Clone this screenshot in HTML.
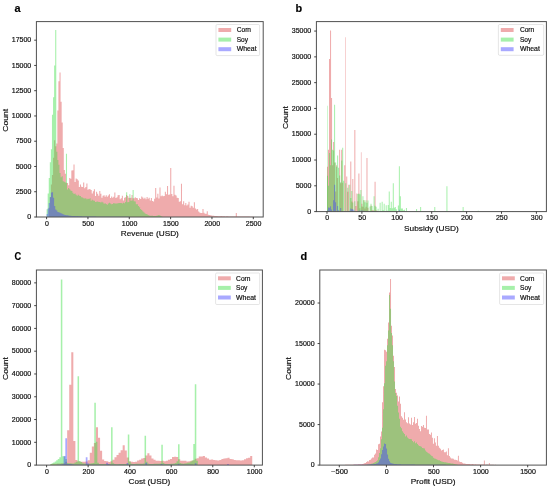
<!DOCTYPE html>
<html><head><meta charset="utf-8"><title>Histograms</title>
<style>html,body{margin:0;padding:0;background:#fff}svg{display:block;filter:blur(0.35px)}text{font-family:"Liberation Sans",sans-serif;stroke:#111;stroke-width:0.18px}</style>
</head><body>
<svg width="550" height="488" viewBox="0 0 550 488">
<rect width="550" height="488" fill="#fff"/>
<path d="M46.60,217.00L46.60,217.00L47.67,217.00L47.67,217.00L48.75,217.00L48.75,207.66L49.82,207.66L49.82,196.96L50.90,196.96L50.90,184.50L51.97,184.50L51.97,174.90L53.05,174.90L53.05,157.71L54.12,157.71L54.12,140.25L55.20,140.25L55.20,146.21L56.27,146.21L56.27,143.38L57.35,143.38L57.35,110.54L58.42,110.54L58.42,81.14L59.50,81.14L59.50,72.51L60.57,72.51L60.57,101.76L61.65,101.76L61.65,122.41L62.72,122.41L62.72,147.94L63.80,147.94L63.80,170.05L64.87,170.05L64.87,173.79L65.95,173.79L65.95,182.80L67.02,182.80L67.02,182.97L68.10,182.97L68.10,185.32L69.17,185.32L69.17,178.01L70.25,178.01L70.25,178.68L71.32,178.68L71.32,170.46L72.40,170.46L72.40,170.24L73.47,170.24L73.47,164.46L74.55,164.46L74.55,182.01L75.62,182.01L75.62,178.60L76.70,178.60L76.70,179.23L77.77,179.23L77.77,180.56L78.85,180.56L78.85,186.94L79.92,186.94L79.92,184.57L80.99,184.57L80.99,186.69L82.07,186.69L82.07,186.92L83.14,186.92L83.14,182.60L84.22,182.60L84.22,188.31L85.29,188.31L85.29,187.00L86.37,187.00L86.37,183.56L87.44,183.56L87.44,189.64L88.52,189.64L88.52,189.12L89.59,189.12L89.59,189.25L90.67,189.25L90.67,190.01L91.74,190.01L91.74,193.53L92.82,193.53L92.82,191.28L93.89,191.28L93.89,189.22L94.97,189.22L94.97,195.94L96.04,195.94L96.04,191.67L97.12,191.67L97.12,193.81L98.19,193.81L98.19,195.76L99.27,195.76L99.27,191.09L100.34,191.09L100.34,193.77L101.42,193.77L101.42,197.71L102.49,197.71L102.49,195.71L103.57,195.71L103.57,195.15L104.64,195.15L104.64,196.68L105.72,196.68L105.72,195.26L106.79,195.26L106.79,196.67L107.87,196.67L107.87,195.50L108.94,195.50L108.94,194.28L110.02,194.28L110.02,198.01L111.09,198.01L111.09,196.55L112.17,196.55L112.17,197.68L113.24,197.68L113.24,196.68L114.31,196.68L114.31,192.45L115.39,192.45L115.39,197.88L116.46,197.88L116.46,197.23L117.54,197.23L117.54,195.36L118.61,195.36L118.61,194.94L119.69,194.94L119.69,199.16L120.76,199.16L120.76,198.26L121.84,198.26L121.84,195.86L122.91,195.86L122.91,200.40L123.99,200.40L123.99,197.85L125.06,197.85L125.06,197.28L126.14,197.28L126.14,195.05L127.21,195.05L127.21,196.06L128.29,196.06L128.29,197.82L129.36,197.82L129.36,197.96L130.44,197.96L130.44,197.85L131.51,197.85L131.51,195.00L132.59,195.00L132.59,198.32L133.66,198.32L133.66,198.20L134.74,198.20L134.74,197.21L135.81,197.21L135.81,198.08L136.89,198.08L136.89,198.31L137.96,198.31L137.96,199.89L139.04,199.89L139.04,198.22L140.11,198.22L140.11,199.01L141.19,199.01L141.19,196.57L142.26,196.57L142.26,197.49L143.34,197.49L143.34,198.66L144.41,198.66L144.41,197.69L145.49,197.69L145.49,199.33L146.56,199.33L146.56,197.10L147.63,197.10L147.63,198.68L148.71,198.68L148.71,197.69L149.78,197.69L149.78,200.56L150.86,200.56L150.86,197.93L151.93,197.93L151.93,201.07L153.01,201.07L153.01,201.57L154.08,201.57L154.08,198.67L155.16,198.67L155.16,188.10L156.23,188.10L156.23,197.42L157.31,197.42L157.31,193.71L158.38,193.71L158.38,198.60L159.46,198.60L159.46,187.40L160.53,187.40L160.53,196.32L161.61,196.32L161.61,195.48L162.68,195.48L162.68,196.34L163.76,196.34L163.76,196.07L164.83,196.07L164.83,191.74L165.91,191.74L165.91,194.15L166.98,194.15L166.98,186.08L168.06,186.08L168.06,194.83L169.13,194.83L169.13,194.39L170.21,194.39L170.21,168.00L171.28,168.00L171.28,194.01L172.36,194.01L172.36,196.35L173.43,196.35L173.43,185.78L174.51,185.78L174.51,194.81L175.58,194.81L175.58,195.61L176.66,195.61L176.66,197.77L177.73,197.77L177.73,197.93L178.81,197.93L178.81,201.80L179.88,201.80L179.88,201.29L180.96,201.29L180.96,183.66L182.03,183.66L182.03,204.27L183.10,204.27L183.10,201.24L184.18,201.24L184.18,205.15L185.25,205.15L185.25,203.03L186.33,203.03L186.33,205.55L187.40,205.55L187.40,204.50L188.48,204.50L188.48,201.74L189.55,201.74L189.55,207.76L190.63,207.76L190.63,205.85L191.70,205.85L191.70,206.27L192.78,206.27L192.78,207.82L193.85,207.82L193.85,202.25L194.93,202.25L194.93,208.54L196.00,208.54L196.00,209.44L197.08,209.44L197.08,209.00L198.15,209.00L198.15,211.48L199.23,211.48L199.23,212.51L200.30,212.51L200.30,212.96L201.38,212.96L201.38,213.08L202.45,213.08L202.45,209.12L203.53,209.12L203.53,212.87L204.60,212.87L204.60,213.63L205.68,213.63L205.68,213.65L206.75,213.65L206.75,211.14L207.83,211.14L207.83,214.68L208.90,214.68L208.90,214.91L209.98,214.91L209.98,215.25L211.05,215.25L211.05,215.48L212.13,215.48L212.13,215.70L213.20,215.70L213.20,215.80L214.28,215.80L214.28,216.01L215.35,216.01L215.35,216.05L216.42,216.05L216.42,215.96L217.50,215.96L217.50,216.17L218.57,216.17L218.57,216.22L219.65,216.22L219.65,216.15L220.72,216.15L220.72,216.11L221.80,216.11L221.80,216.33L222.87,216.33L222.87,216.27L223.95,216.27L223.95,216.33L225.02,216.33L225.02,216.42L226.10,216.42L226.10,216.30L227.17,216.30L227.17,216.37L228.25,216.37L228.25,216.39L229.32,216.39L229.32,216.44L230.40,216.44L230.40,216.39L231.47,216.39L231.47,216.44L232.55,216.44L232.55,216.43L233.62,216.43L233.62,216.48L234.70,216.48L234.70,216.49L235.77,216.49L235.77,212.96L236.85,212.96L236.85,216.47L237.92,216.47L237.92,216.44L239.00,216.44L239.00,216.46L240.07,216.46L240.07,216.49L241.15,216.49L241.15,216.50L242.22,216.50L242.22,216.45L243.30,216.45L243.30,216.50L244.37,216.50L244.37,216.50L245.45,216.50L245.45,216.52L246.52,216.52L246.52,216.50L247.60,216.50L247.60,216.55L248.67,216.55L248.67,216.60L249.74,216.60L249.74,216.65L250.82,216.65L250.82,216.71L251.89,216.71L251.89,216.67L252.97,216.67L252.97,216.77L254.04,216.77L254.04,216.89L255.12,216.89L255.12,217.00Z" fill="#d62728" fill-opacity="0.39"/>
<path d="M46.60,217.00L46.60,209.20L47.67,209.20L47.67,193.56L48.75,193.56L48.75,177.93L49.82,177.93L49.82,162.16L50.90,162.16L50.90,149.31L51.97,149.31L51.97,114.78L53.05,114.78L53.05,97.36L54.12,97.36L54.12,65.47L55.20,65.47L55.20,30.08L56.27,30.08L56.27,151.80L57.35,151.80L57.35,160.08L58.42,160.08L58.42,164.77L59.50,164.77L59.50,173.11L60.57,173.11L60.57,177.17L61.65,177.17L61.65,176.16L62.72,176.16L62.72,181.15L63.80,181.15L63.80,181.72L64.87,181.72L64.87,182.59L65.95,182.59L65.95,153.85L67.02,153.85L67.02,189.51L68.10,189.51L68.10,188.03L69.17,188.03L69.17,189.18L70.25,189.18L70.25,190.39L71.32,190.39L71.32,191.05L72.40,191.05L72.40,192.72L73.47,192.72L73.47,193.90L74.55,193.90L74.55,193.38L75.62,193.38L75.62,194.67L76.70,194.67L76.70,195.82L77.77,195.82L77.77,194.78L78.85,194.78L78.85,195.79L79.92,195.79L79.92,195.89L80.99,195.89L80.99,197.32L82.07,197.32L82.07,197.51L83.14,197.51L83.14,198.17L84.22,198.17L84.22,198.51L85.29,198.51L85.29,198.19L86.37,198.19L86.37,199.13L87.44,199.13L87.44,198.72L88.52,198.72L88.52,199.05L89.59,199.05L89.59,198.34L90.67,198.34L90.67,200.73L91.74,200.73L91.74,199.69L92.82,199.69L92.82,200.58L93.89,200.58L93.89,200.85L94.97,200.85L94.97,201.96L96.04,201.96L96.04,201.72L97.12,201.72L97.12,201.39L98.19,201.39L98.19,202.06L99.27,202.06L99.27,202.12L100.34,202.12L100.34,202.46L101.42,202.46L101.42,201.86L102.49,201.86L102.49,202.61L103.57,202.61L103.57,203.84L104.64,203.84L104.64,203.23L105.72,203.23L105.72,204.00L106.79,204.00L106.79,204.75L107.87,204.75L107.87,203.58L108.94,203.58L108.94,202.84L110.02,202.84L110.02,203.59L111.09,203.59L111.09,204.18L112.17,204.18L112.17,204.02L113.24,204.02L113.24,202.99L114.31,202.99L114.31,203.40L115.39,203.40L115.39,203.40L116.46,203.40L116.46,203.40L117.54,203.40L117.54,203.30L118.61,203.30L118.61,202.88L119.69,202.88L119.69,202.95L120.76,202.95L120.76,203.06L121.84,203.06L121.84,203.62L122.91,203.62L122.91,202.81L123.99,202.81L123.99,203.20L125.06,203.20L125.06,202.10L126.14,202.10L126.14,192.35L127.21,192.35L127.21,202.29L128.29,202.29L128.29,202.00L129.36,202.00L129.36,194.37L130.44,194.37L130.44,200.63L131.51,200.63L131.51,200.55L132.59,200.55L132.59,189.92L133.66,189.92L133.66,201.16L134.74,201.16L134.74,201.60L135.81,201.60L135.81,204.29L136.89,204.29L136.89,204.35L137.96,204.35L137.96,205.92L139.04,205.92L139.04,207.32L140.11,207.32L140.11,208.94L141.19,208.94L141.19,209.96L142.26,209.96L142.26,211.20L143.34,211.20L143.34,212.24L144.41,212.24L144.41,213.35L145.49,213.35L145.49,213.94L146.56,213.94L146.56,214.35L147.63,214.35L147.63,215.07L148.71,215.07L148.71,215.60L149.78,215.60L149.78,215.82L150.86,215.82L150.86,215.75L151.93,215.75L151.93,215.84L153.01,215.84L153.01,215.92L154.08,215.92L154.08,216.00L155.16,216.00L155.16,216.08L156.23,216.08L156.23,215.76L157.31,215.76L157.31,215.45L158.38,215.45L158.38,215.11L159.46,215.11L159.46,215.44L160.53,215.44L160.53,216.11L161.61,216.11L161.61,216.86L162.68,216.86L162.68,217.00L163.76,217.00L163.76,217.00L164.83,217.00L164.83,217.00L165.91,217.00L165.91,217.00L166.98,217.00L166.98,217.00L168.06,217.00L168.06,217.00L169.13,217.00L169.13,217.00L170.21,217.00L170.21,217.00L171.28,217.00L171.28,217.00L172.36,217.00L172.36,217.00L173.43,217.00L173.43,217.00L174.51,217.00L174.51,217.00L175.58,217.00L175.58,217.00L176.66,217.00L176.66,217.00L177.73,217.00L177.73,217.00L178.81,217.00L178.81,217.00L179.88,217.00L179.88,217.00L180.96,217.00L180.96,217.00L182.03,217.00L182.03,217.00L183.10,217.00L183.10,217.00L184.18,217.00L184.18,217.00L185.25,217.00L185.25,217.00L186.33,217.00L186.33,217.00L187.40,217.00L187.40,217.00L188.48,217.00L188.48,217.00L189.55,217.00L189.55,217.00L190.63,217.00L190.63,217.00L191.70,217.00L191.70,217.00L192.78,217.00L192.78,217.00L193.85,217.00L193.85,217.00L194.93,217.00L194.93,217.00L196.00,217.00L196.00,217.00L197.08,217.00L197.08,217.00L198.15,217.00L198.15,217.00L199.23,217.00L199.23,217.00L200.30,217.00L200.30,217.00L201.38,217.00L201.38,217.00L202.45,217.00L202.45,217.00L203.53,217.00L203.53,217.00L204.60,217.00L204.60,217.00L205.68,217.00L205.68,217.00L206.75,217.00L206.75,217.00L207.83,217.00L207.83,217.00L208.90,217.00L208.90,217.00L209.98,217.00L209.98,217.00L211.05,217.00L211.05,217.00L212.13,217.00L212.13,217.00L213.20,217.00L213.20,217.00L214.28,217.00L214.28,217.00L215.35,217.00L215.35,217.00L216.42,217.00L216.42,217.00L217.50,217.00L217.50,217.00L218.57,217.00L218.57,217.00L219.65,217.00L219.65,217.00L220.72,217.00L220.72,217.00L221.80,217.00L221.80,217.00L222.87,217.00L222.87,217.00L223.95,217.00L223.95,217.00L225.02,217.00L225.02,217.00L226.10,217.00L226.10,217.00L227.17,217.00L227.17,217.00L228.25,217.00L228.25,217.00L229.32,217.00L229.32,217.00L230.40,217.00L230.40,217.00L231.47,217.00L231.47,217.00L232.55,217.00L232.55,217.00L233.62,217.00L233.62,217.00L234.70,217.00L234.70,217.00L235.77,217.00L235.77,217.00L236.85,217.00L236.85,217.00L237.92,217.00L237.92,217.00L239.00,217.00L239.00,217.00L240.07,217.00L240.07,217.00L241.15,217.00L241.15,217.00L242.22,217.00L242.22,217.00L243.30,217.00L243.30,217.00L244.37,217.00L244.37,217.00L245.45,217.00L245.45,217.00L246.52,217.00L246.52,217.00L247.60,217.00L247.60,217.00L248.67,217.00L248.67,217.00L249.74,217.00L249.74,217.00L250.82,217.00L250.82,217.00L251.89,217.00L251.89,217.00L252.97,217.00L252.97,217.00L254.04,217.00L254.04,217.00L255.12,217.00L255.12,217.00Z" fill="#3cde46" fill-opacity="0.46"/>
<path d="M46.60,217.00L46.60,213.91L47.67,213.91L47.67,208.43L48.75,208.43L48.75,203.00L49.82,203.00L49.82,197.29L50.90,197.29L50.90,192.55L51.97,192.55L51.97,192.25L53.05,192.25L53.05,197.86L54.12,197.86L54.12,205.95L55.20,205.95L55.20,209.47L56.27,209.47L56.27,210.55L57.35,210.55L57.35,211.92L58.42,211.92L58.42,212.35L59.50,212.35L59.50,212.82L60.57,212.82L60.57,213.28L61.65,213.28L61.65,213.82L62.72,213.82L62.72,214.15L63.80,214.15L63.80,214.67L64.87,214.67L64.87,215.06L65.95,215.06L65.95,215.21L67.02,215.21L67.02,215.30L68.10,215.30L68.10,215.50L69.17,215.50L69.17,215.78L70.25,215.78L70.25,215.84L71.32,215.84L71.32,215.99L72.40,215.99L72.40,216.00L73.47,216.00L73.47,216.09L74.55,216.09L74.55,216.12L75.62,216.12L75.62,216.18L76.70,216.18L76.70,216.12L77.77,216.12L77.77,216.23L78.85,216.23L78.85,216.22L79.92,216.22L79.92,216.31L80.99,216.31L80.99,216.33L82.07,216.33L82.07,216.40L83.14,216.40L83.14,216.41L84.22,216.41L84.22,216.42L85.29,216.42L85.29,216.49L86.37,216.49L86.37,216.49L87.44,216.49L87.44,216.54L88.52,216.54L88.52,216.57L89.59,216.57L89.59,216.57L90.67,216.57L90.67,216.58L91.74,216.58L91.74,216.58L92.82,216.58L92.82,216.60L93.89,216.60L93.89,216.61L94.97,216.61L94.97,216.61L96.04,216.61L96.04,216.63L97.12,216.63L97.12,216.64L98.19,216.64L98.19,216.63L99.27,216.63L99.27,216.63L100.34,216.63L100.34,216.67L101.42,216.67L101.42,216.66L102.49,216.66L102.49,216.67L103.57,216.67L103.57,216.69L104.64,216.69L104.64,216.68L105.72,216.68L105.72,216.70L106.79,216.70L106.79,216.69L107.87,216.69L107.87,216.72L108.94,216.72L108.94,216.72L110.02,216.72L110.02,216.73L111.09,216.73L111.09,216.74L112.17,216.74L112.17,216.74L113.24,216.74L113.24,216.75L114.31,216.75L114.31,216.76L115.39,216.76L115.39,216.77L116.46,216.77L116.46,216.79L117.54,216.79L117.54,216.79L118.61,216.79L118.61,216.80L119.69,216.80L119.69,216.80L120.76,216.80L120.76,216.82L121.84,216.82L121.84,216.82L122.91,216.82L122.91,216.84L123.99,216.84L123.99,216.84L125.06,216.84L125.06,216.85L126.14,216.85L126.14,216.87L127.21,216.87L127.21,216.87L128.29,216.87L128.29,216.87L129.36,216.87L129.36,216.89L130.44,216.89L130.44,216.89L131.51,216.89L131.51,216.89L132.59,216.89L132.59,216.89L133.66,216.89L133.66,216.89L134.74,216.89L134.74,216.90L135.81,216.90L135.81,216.90L136.89,216.90L136.89,216.90L137.96,216.90L137.96,216.91L139.04,216.91L139.04,216.91L140.11,216.91L140.11,216.91L141.19,216.91L141.19,216.92L142.26,216.92L142.26,216.92L143.34,216.92L143.34,216.92L144.41,216.92L144.41,216.93L145.49,216.93L145.49,216.93L146.56,216.93L146.56,216.93L147.63,216.93L147.63,216.93L148.71,216.93L148.71,216.94L149.78,216.94L149.78,216.94L150.86,216.94L150.86,216.95L151.93,216.95L151.93,216.95L153.01,216.95L153.01,216.95L154.08,216.95L154.08,216.95L155.16,216.95L155.16,216.96L156.23,216.96L156.23,216.96L157.31,216.96L157.31,216.96L158.38,216.96L158.38,216.97L159.46,216.97L159.46,216.97L160.53,216.97L160.53,216.97L161.61,216.97L161.61,216.98L162.68,216.98L162.68,216.98L163.76,216.98L163.76,216.98L164.83,216.98L164.83,216.98L165.91,216.98L165.91,216.99L166.98,216.99L166.98,216.99L168.06,216.99L168.06,216.99L169.13,216.99L169.13,217.00L170.21,217.00L170.21,217.00L171.28,217.00L171.28,217.00L172.36,217.00L172.36,217.00L173.43,217.00L173.43,217.00L174.51,217.00L174.51,217.00L175.58,217.00L175.58,217.00L176.66,217.00L176.66,217.00L177.73,217.00L177.73,217.00L178.81,217.00L178.81,217.00L179.88,217.00L179.88,217.00L180.96,217.00L180.96,217.00L182.03,217.00L182.03,217.00L183.10,217.00L183.10,217.00L184.18,217.00L184.18,217.00L185.25,217.00L185.25,217.00L186.33,217.00L186.33,217.00L187.40,217.00L187.40,217.00L188.48,217.00L188.48,217.00L189.55,217.00L189.55,217.00L190.63,217.00L190.63,217.00L191.70,217.00L191.70,217.00L192.78,217.00L192.78,217.00L193.85,217.00L193.85,217.00L194.93,217.00L194.93,217.00L196.00,217.00L196.00,217.00L197.08,217.00L197.08,217.00L198.15,217.00L198.15,217.00L199.23,217.00L199.23,217.00L200.30,217.00L200.30,217.00L201.38,217.00L201.38,217.00L202.45,217.00L202.45,217.00L203.53,217.00L203.53,217.00L204.60,217.00L204.60,217.00L205.68,217.00L205.68,217.00L206.75,217.00L206.75,217.00L207.83,217.00L207.83,217.00L208.90,217.00L208.90,217.00L209.98,217.00L209.98,217.00L211.05,217.00L211.05,217.00L212.13,217.00L212.13,217.00L213.20,217.00L213.20,217.00L214.28,217.00L214.28,217.00L215.35,217.00L215.35,217.00L216.42,217.00L216.42,217.00L217.50,217.00L217.50,217.00L218.57,217.00L218.57,217.00L219.65,217.00L219.65,217.00L220.72,217.00L220.72,217.00L221.80,217.00L221.80,217.00L222.87,217.00L222.87,217.00L223.95,217.00L223.95,217.00L225.02,217.00L225.02,217.00L226.10,217.00L226.10,217.00L227.17,217.00L227.17,217.00L228.25,217.00L228.25,217.00L229.32,217.00L229.32,217.00L230.40,217.00L230.40,217.00L231.47,217.00L231.47,217.00L232.55,217.00L232.55,217.00L233.62,217.00L233.62,217.00L234.70,217.00L234.70,217.00L235.77,217.00L235.77,217.00L236.85,217.00L236.85,217.00L237.92,217.00L237.92,217.00L239.00,217.00L239.00,217.00L240.07,217.00L240.07,217.00L241.15,217.00L241.15,217.00L242.22,217.00L242.22,217.00L243.30,217.00L243.30,217.00L244.37,217.00L244.37,217.00L245.45,217.00L245.45,217.00L246.52,217.00L246.52,217.00L247.60,217.00L247.60,217.00L248.67,217.00L248.67,217.00L249.74,217.00L249.74,217.00L250.82,217.00L250.82,217.00L251.89,217.00L251.89,217.00L252.97,217.00L252.97,217.00L254.04,217.00L254.04,217.00L255.12,217.00L255.12,217.00Z" fill="#4040ff" fill-opacity="0.45"/>
<rect x="36.40" y="21.60" width="226.80" height="195.40" fill="none" stroke="#505050" stroke-width="1.0"/>
<text x="46.90" y="225.80" font-size="6.40" text-anchor="middle" fill="#111" textLength="3.91" lengthAdjust="spacingAndGlyphs">0</text>
<text x="88.24" y="225.80" font-size="6.40" text-anchor="middle" fill="#111" textLength="11.74" lengthAdjust="spacingAndGlyphs">500</text>
<text x="129.58" y="225.80" font-size="6.40" text-anchor="middle" fill="#111" textLength="15.65" lengthAdjust="spacingAndGlyphs">1000</text>
<text x="170.92" y="225.80" font-size="6.40" text-anchor="middle" fill="#111" textLength="15.65" lengthAdjust="spacingAndGlyphs">1500</text>
<text x="212.26" y="225.80" font-size="6.40" text-anchor="middle" fill="#111" textLength="15.65" lengthAdjust="spacingAndGlyphs">2000</text>
<text x="253.60" y="225.80" font-size="6.40" text-anchor="middle" fill="#111" textLength="15.65" lengthAdjust="spacingAndGlyphs">2500</text>
<text x="31.30" y="219.25" font-size="6.40" text-anchor="end" fill="#111" textLength="3.91" lengthAdjust="spacingAndGlyphs">0</text>
<text x="31.30" y="193.99" font-size="6.40" text-anchor="end" fill="#111" textLength="15.65" lengthAdjust="spacingAndGlyphs">2500</text>
<text x="31.30" y="168.73" font-size="6.40" text-anchor="end" fill="#111" textLength="15.65" lengthAdjust="spacingAndGlyphs">5000</text>
<text x="31.30" y="143.47" font-size="6.40" text-anchor="end" fill="#111" textLength="15.65" lengthAdjust="spacingAndGlyphs">7500</text>
<text x="31.30" y="118.21" font-size="6.40" text-anchor="end" fill="#111" textLength="19.56" lengthAdjust="spacingAndGlyphs">10000</text>
<text x="31.30" y="92.95" font-size="6.40" text-anchor="end" fill="#111" textLength="19.56" lengthAdjust="spacingAndGlyphs">12500</text>
<text x="31.30" y="67.69" font-size="6.40" text-anchor="end" fill="#111" textLength="19.56" lengthAdjust="spacingAndGlyphs">15000</text>
<text x="31.30" y="42.43" font-size="6.40" text-anchor="end" fill="#111" textLength="19.56" lengthAdjust="spacingAndGlyphs">17500</text>
<path d="M46.60,217.00v2.2M87.94,217.00v2.2M129.28,217.00v2.2M170.62,217.00v2.2M211.96,217.00v2.2M253.30,217.00v2.2M36.40,217.00h-2.2M36.40,191.74h-2.2M36.40,166.48h-2.2M36.40,141.22h-2.2M36.40,115.96h-2.2M36.40,90.70h-2.2M36.40,65.44h-2.2M36.40,40.18h-2.2" stroke="#303030" stroke-width="0.9" fill="none"/>
<text x="149.80" y="236.10" font-size="7.96" text-anchor="middle" fill="#111" textLength="58.06" lengthAdjust="spacingAndGlyphs">Revenue (USD)</text>
<text font-size="7.96" text-anchor="middle" fill="#111" textLength="22.72" lengthAdjust="spacingAndGlyphs" transform="translate(7.60,120.30) rotate(-90)">Count</text>
<text x="14.40" y="12.40" font-size="10.9" font-weight="bold" fill="#000">a</text>
<rect x="216.00" y="24.50" width="43.60" height="31.10" rx="1.2" fill="#fff" fill-opacity="0.8" stroke="#d4d4d4" stroke-width="0.6"/>
<rect x="218.40" y="28.00" width="12.8" height="4.0" fill="#d62728" fill-opacity="0.39"/>
<text x="236.70" y="32.20" font-size="6.40" text-anchor="start" fill="#111" textLength="14.38" lengthAdjust="spacingAndGlyphs">Corn</text>
<rect x="218.40" y="37.60" width="12.8" height="4.0" fill="#3cde46" fill-opacity="0.46"/>
<text x="236.70" y="41.80" font-size="6.40" text-anchor="start" fill="#111" textLength="11.31" lengthAdjust="spacingAndGlyphs">Soy</text>
<rect x="218.40" y="47.20" width="12.8" height="4.0" fill="#4040ff" fill-opacity="0.45"/>
<text x="236.70" y="51.40" font-size="6.40" text-anchor="start" fill="#111" textLength="19.94" lengthAdjust="spacingAndGlyphs">Wheat</text>
<path d="M327.00,211.60L327.00,166.82L328.01,166.82L328.01,149.70L329.02,149.70L329.02,58.92L330.04,58.92L330.04,30.55L331.05,30.55L331.05,98.12L332.06,98.12L332.06,165.18L333.07,165.18L333.07,141.97L334.08,141.97L334.08,162.60L335.10,162.60L335.10,191.49L336.11,191.49L336.11,165.18L337.12,165.18L337.12,178.07L338.13,178.07L338.13,211.60L339.15,211.60L339.15,149.70L340.16,149.70L340.16,183.23L341.17,183.23L341.17,149.70L342.18,149.70L342.18,182.86L343.19,182.86L343.19,211.60L344.21,211.60L344.21,165.18L345.22,165.18L345.22,211.60L346.23,211.60L346.23,176.53L347.24,176.53L347.24,191.86L348.25,191.86L348.25,184.78L349.27,184.78L349.27,211.60L350.28,211.60L350.28,161.57L351.29,161.57L351.29,201.41L352.30,201.41L352.30,179.10L353.31,179.10L353.31,211.60L354.33,211.60L354.33,130.10L355.34,130.10L355.34,206.07L356.35,206.07L356.35,193.55L357.36,193.55L357.36,201.13L358.38,201.13L358.38,173.43L359.39,173.43L359.39,208.30L360.40,208.30L360.40,211.60L361.41,211.60L361.41,203.87L362.42,203.87L362.42,206.80L363.44,206.80L363.44,200.25L364.45,200.25L364.45,208.57L365.46,208.57L365.46,206.79L366.47,206.79L366.47,157.96L367.48,157.96L367.48,207.77L368.50,207.77L368.50,211.60L369.51,211.60L369.51,211.60L370.52,211.60L370.52,205.41L371.53,205.41L371.53,210.38L372.54,210.38L372.54,209.90L373.56,209.90L373.56,210.83L374.57,210.83L374.57,181.68L375.58,181.68L375.58,210.34L376.59,210.34L376.59,210.86L377.61,210.86L377.61,211.60L378.62,211.60L378.62,211.60L379.63,211.60L379.63,211.60L380.64,211.60L380.64,211.60L381.65,211.60L381.65,211.60L382.67,211.60L382.67,211.60L383.68,211.60L383.68,211.60L384.69,211.60L384.69,211.60L385.70,211.60L385.70,211.60L386.71,211.60L386.71,211.60L387.73,211.60L387.73,211.60L388.74,211.60L388.74,211.60L389.75,211.60L389.75,211.60L390.76,211.60L390.76,211.60L391.77,211.60L391.77,211.60L392.79,211.60L392.79,211.60L393.80,211.60L393.80,211.60L394.81,211.60L394.81,211.60L395.82,211.60L395.82,211.60L396.83,211.60L396.83,211.60L397.85,211.60L397.85,211.60L398.86,211.60L398.86,211.60L399.87,211.60L399.87,211.60L400.88,211.60L400.88,211.60L401.90,211.60L401.90,211.60L402.91,211.60L402.91,211.60L403.92,211.60L403.92,211.60L404.93,211.60L404.93,211.60L405.94,211.60L405.94,211.60L406.96,211.60L406.96,211.60L407.97,211.60L407.97,211.60L408.98,211.60L408.98,211.60L409.99,211.60L409.99,211.60L411.00,211.60L411.00,211.60L412.02,211.60L412.02,211.60L413.03,211.60L413.03,211.60L414.04,211.60L414.04,211.60L415.05,211.60L415.05,211.60L416.06,211.60L416.06,211.60L417.08,211.60L417.08,211.60L418.09,211.60L418.09,211.60L419.10,211.60L419.10,211.60L420.11,211.60L420.11,211.60L421.13,211.60L421.13,211.60L422.14,211.60L422.14,211.60L423.15,211.60L423.15,211.60L424.16,211.60L424.16,211.60L425.17,211.60L425.17,211.60L426.19,211.60L426.19,211.60L427.20,211.60L427.20,211.60L428.21,211.60L428.21,211.60L429.22,211.60L429.22,211.60L430.23,211.60L430.23,211.60L431.25,211.60L431.25,211.60L432.26,211.60L432.26,211.60L433.27,211.60L433.27,211.60L434.28,211.60L434.28,211.60L435.29,211.60L435.29,211.60L436.31,211.60L436.31,211.60L437.32,211.60L437.32,211.60L438.33,211.60L438.33,211.60L439.34,211.60L439.34,211.60L440.36,211.60L440.36,211.60L441.37,211.60L441.37,211.60L442.38,211.60L442.38,211.60L443.39,211.60L443.39,211.60L444.40,211.60L444.40,211.60L445.42,211.60L445.42,211.60L446.43,211.60L446.43,211.60L447.44,211.60L447.44,211.60L448.45,211.60L448.45,211.60L449.46,211.60L449.46,211.60L450.48,211.60L450.48,211.60L451.49,211.60L451.49,211.60L452.50,211.60L452.50,211.60L453.51,211.60L453.51,211.60L454.52,211.60L454.52,211.60L455.54,211.60L455.54,211.60L456.55,211.60L456.55,211.60L457.56,211.60L457.56,211.60L458.57,211.60L458.57,211.60L459.59,211.60L459.59,211.60L460.60,211.60L460.60,211.60L461.61,211.60L461.61,211.60L462.62,211.60L462.62,211.60L463.63,211.60L463.63,211.60L464.65,211.60L464.65,211.60L465.66,211.60L465.66,211.60L466.67,211.60L466.67,211.60L467.68,211.60L467.68,211.60L468.69,211.60L468.69,211.60L469.71,211.60L469.71,211.60L470.72,211.60L470.72,211.60L471.73,211.60L471.73,211.60L472.74,211.60L472.74,211.60L473.75,211.60L473.75,211.60L474.77,211.60L474.77,211.60L475.78,211.60L475.78,211.60L476.79,211.60L476.79,211.60L477.80,211.60L477.80,211.60L478.81,211.60L478.81,211.60L479.83,211.60L479.83,211.60L480.84,211.60L480.84,211.60L481.85,211.60L481.85,211.60L482.86,211.60L482.86,211.60L483.88,211.60L483.88,211.60L484.89,211.60L484.89,211.60L485.90,211.60L485.90,211.60L486.91,211.60L486.91,211.60L487.92,211.60L487.92,211.60L488.94,211.60L488.94,211.60L489.95,211.60L489.95,211.60L490.96,211.60L490.96,211.60L491.97,211.60L491.97,211.60L492.98,211.60L492.98,211.60L494.00,211.60L494.00,211.60L495.01,211.60L495.01,211.60L496.02,211.60L496.02,211.60L497.03,211.60L497.03,211.60L498.04,211.60L498.04,211.60L499.06,211.60L499.06,211.60L500.07,211.60L500.07,211.60L501.08,211.60L501.08,211.60L502.09,211.60L502.09,211.60L503.11,211.60L503.11,211.60L504.12,211.60L504.12,211.60L505.13,211.60L505.13,211.60L506.14,211.60L506.14,211.60L507.15,211.60L507.15,211.60L508.17,211.60L508.17,211.60L509.18,211.60L509.18,211.60L510.19,211.60L510.19,211.60L511.20,211.60L511.20,211.60L512.21,211.60L512.21,211.60L513.23,211.60L513.23,211.60L514.24,211.60L514.24,211.60L515.25,211.60L515.25,211.60L516.26,211.60L516.26,211.60L517.27,211.60L517.27,211.60L518.29,211.60L518.29,211.60L519.30,211.60L519.30,211.60L520.31,211.60L520.31,211.60L521.32,211.60L521.32,211.60L522.34,211.60L522.34,211.60L523.35,211.60L523.35,211.60L524.36,211.60L524.36,211.60L525.37,211.60L525.37,211.60L526.38,211.60L526.38,211.60L527.40,211.60L527.40,211.60L528.41,211.60L528.41,211.60L529.42,211.60L529.42,211.60L530.43,211.60L530.43,211.60L531.44,211.60L531.44,211.60L532.46,211.60L532.46,211.60L533.47,211.60L533.47,211.60L534.48,211.60L534.48,211.60L535.49,211.60L535.49,211.60L536.50,211.60L536.50,211.60Z" fill="#d62728" fill-opacity="0.39"/>
<path d="M345.22,211.60V37.26h0.55V211.60ZM360.90,211.60V152.28h0.60V211.60Z" fill="#d62728" fill-opacity="0.39"/>
<path d="M327.00,211.60L327.00,175.73L328.01,175.73L328.01,185.81L329.02,185.81L329.02,153.01L330.04,153.01L330.04,165.18L331.05,165.18L331.05,139.39L332.06,139.39L332.06,149.70L333.07,149.70L333.07,150.47L334.08,150.47L334.08,104.83L335.10,104.83L335.10,162.60L336.11,162.60L336.11,166.77L337.12,166.77L337.12,155.38L338.13,155.38L338.13,167.76L339.15,167.76L339.15,175.49L340.16,175.49L340.16,182.22L341.17,182.22L341.17,160.54L342.18,160.54L342.18,147.64L343.19,147.64L343.19,180.65L344.21,180.65L344.21,211.60L345.22,211.60L345.22,183.23L346.23,183.23L346.23,211.60L347.24,211.60L347.24,187.80L348.25,187.80L348.25,211.60L349.27,211.60L349.27,184.78L350.28,184.78L350.28,198.11L351.29,198.11L351.29,190.97L352.30,190.97L352.30,202.60L353.31,202.60L353.31,211.60L354.33,211.60L354.33,201.20L355.34,201.20L355.34,211.60L356.35,211.60L356.35,211.60L357.36,211.60L357.36,194.06L358.38,194.06L358.38,193.54L359.39,193.54L359.39,194.30L360.40,194.30L360.40,189.94L361.41,189.94L361.41,206.49L362.42,206.49L362.42,196.13L363.44,196.13L363.44,200.15L364.45,200.15L364.45,202.28L365.46,202.28L365.46,200.25L366.47,200.25L366.47,202.70L367.48,202.70L367.48,200.41L368.50,200.41L368.50,211.60L369.51,211.60L369.51,206.41L370.52,206.41L370.52,203.68L371.53,203.68L371.53,206.09L372.54,206.09L372.54,211.60L373.56,211.60L373.56,196.13L374.57,196.13L374.57,205.68L375.58,205.68L375.58,206.76L376.59,206.76L376.59,211.60L377.61,211.60L377.61,208.85L378.62,208.85L378.62,211.60L379.63,211.60L379.63,202.83L380.64,202.83L380.64,211.60L381.65,211.60L381.65,201.80L382.67,201.80L382.67,210.23L383.68,210.23L383.68,203.86L384.69,203.86L384.69,211.60L385.70,211.60L385.70,205.22L386.71,205.22L386.71,210.77L387.73,210.77L387.73,204.89L388.74,204.89L388.74,191.48L389.75,191.48L389.75,207.97L390.76,207.97L390.76,201.80L391.77,201.80L391.77,208.28L392.79,208.28L392.79,183.23L393.80,183.23L393.80,207.66L394.81,207.66L394.81,206.96L395.82,206.96L395.82,209.21L396.83,209.21L396.83,211.60L397.85,211.60L397.85,205.41L398.86,205.41L398.86,166.21L399.87,166.21L399.87,196.13L400.88,196.13L400.88,208.42L401.90,208.42L401.90,208.51L402.91,208.51L402.91,210.19L403.92,210.19L403.92,209.71L404.93,209.71L404.93,211.60L405.94,211.60L405.94,207.99L406.96,207.99L406.96,211.60L407.97,211.60L407.97,211.60L408.98,211.60L408.98,211.60L409.99,211.60L409.99,211.60L411.00,211.60L411.00,211.60L412.02,211.60L412.02,211.60L413.03,211.60L413.03,211.60L414.04,211.60L414.04,211.60L415.05,211.60L415.05,211.60L416.06,211.60L416.06,209.02L417.08,209.02L417.08,211.60L418.09,211.60L418.09,211.60L419.10,211.60L419.10,211.60L420.11,211.60L420.11,206.96L421.13,206.96L421.13,211.60L422.14,211.60L422.14,211.60L423.15,211.60L423.15,211.60L424.16,211.60L424.16,211.60L425.17,211.60L425.17,211.60L426.19,211.60L426.19,211.60L427.20,211.60L427.20,211.60L428.21,211.60L428.21,211.60L429.22,211.60L429.22,211.60L430.23,211.60L430.23,211.60L431.25,211.60L431.25,211.60L432.26,211.60L432.26,211.60L433.27,211.60L433.27,211.60L434.28,211.60L434.28,206.96L435.29,206.96L435.29,211.60L436.31,211.60L436.31,211.60L437.32,211.60L437.32,211.60L438.33,211.60L438.33,211.60L439.34,211.60L439.34,211.60L440.36,211.60L440.36,211.60L441.37,211.60L441.37,211.60L442.38,211.60L442.38,211.60L443.39,211.60L443.39,211.60L444.40,211.60L444.40,211.60L445.42,211.60L445.42,211.60L446.43,211.60L446.43,186.33L447.44,186.33L447.44,211.60L448.45,211.60L448.45,211.60L449.46,211.60L449.46,211.60L450.48,211.60L450.48,211.60L451.49,211.60L451.49,211.60L452.50,211.60L452.50,211.60L453.51,211.60L453.51,211.60L454.52,211.60L454.52,211.60L455.54,211.60L455.54,211.60L456.55,211.60L456.55,211.60L457.56,211.60L457.56,211.60L458.57,211.60L458.57,211.60L459.59,211.60L459.59,211.60L460.60,211.60L460.60,211.60L461.61,211.60L461.61,211.60L462.62,211.60L462.62,206.96L463.63,206.96L463.63,211.60L464.65,211.60L464.65,211.60L465.66,211.60L465.66,211.60L466.67,211.60L466.67,211.60L467.68,211.60L467.68,211.60L468.69,211.60L468.69,211.60L469.71,211.60L469.71,211.60L470.72,211.60L470.72,211.60L471.73,211.60L471.73,211.60L472.74,211.60L472.74,211.60L473.75,211.60L473.75,211.60L474.77,211.60L474.77,211.60L475.78,211.60L475.78,211.60L476.79,211.60L476.79,211.60L477.80,211.60L477.80,210.83L478.81,210.83L478.81,211.60L479.83,211.60L479.83,211.60L480.84,211.60L480.84,211.60L481.85,211.60L481.85,211.60L482.86,211.60L482.86,211.60L483.88,211.60L483.88,211.60L484.89,211.60L484.89,211.60L485.90,211.60L485.90,211.60L486.91,211.60L486.91,211.60L487.92,211.60L487.92,211.60L488.94,211.60L488.94,211.60L489.95,211.60L489.95,211.60L490.96,211.60L490.96,211.60L491.97,211.60L491.97,211.60L492.98,211.60L492.98,211.60L494.00,211.60L494.00,211.60L495.01,211.60L495.01,211.60L496.02,211.60L496.02,211.60L497.03,211.60L497.03,211.60L498.04,211.60L498.04,211.60L499.06,211.60L499.06,211.60L500.07,211.60L500.07,211.60L501.08,211.60L501.08,211.60L502.09,211.60L502.09,211.60L503.11,211.60L503.11,211.60L504.12,211.60L504.12,211.60L505.13,211.60L505.13,211.60L506.14,211.60L506.14,211.60L507.15,211.60L507.15,211.60L508.17,211.60L508.17,211.60L509.18,211.60L509.18,211.60L510.19,211.60L510.19,211.60L511.20,211.60L511.20,211.60L512.21,211.60L512.21,210.98L513.23,210.98L513.23,211.60L514.24,211.60L514.24,211.60L515.25,211.60L515.25,211.60L516.26,211.60L516.26,211.60L517.27,211.60L517.27,211.60L518.29,211.60L518.29,211.60L519.30,211.60L519.30,211.60L520.31,211.60L520.31,211.60L521.32,211.60L521.32,211.60L522.34,211.60L522.34,211.60L523.35,211.60L523.35,211.60L524.36,211.60L524.36,211.60L525.37,211.60L525.37,211.60L526.38,211.60L526.38,211.60L527.40,211.60L527.40,211.60L528.41,211.60L528.41,211.60L529.42,211.60L529.42,211.60L530.43,211.60L530.43,211.60L531.44,211.60L531.44,211.60L532.46,211.60L532.46,211.60L533.47,211.60L533.47,211.08L534.48,211.08L534.48,211.60L535.49,211.60L535.49,211.60L536.50,211.60L536.50,211.60Z" fill="#3cde46" fill-opacity="0.46"/>
<path d="M327.14,211.60V105.86h0.55V211.60Z" fill="#3cde46" fill-opacity="0.46"/>
<path d="M327.00,211.60L327.00,210.46L328.01,210.46L328.01,207.44L329.02,207.44L329.02,207.86L330.04,207.86L330.04,206.21L331.05,206.21L331.05,209.61L332.06,209.61L332.06,211.60L333.07,211.60L333.07,200.25L334.08,200.25L334.08,184.78L335.10,184.78L335.10,202.32L336.11,202.32L336.11,211.60L337.12,211.60L337.12,206.00L338.13,206.00L338.13,210.22L339.15,210.22L339.15,211.60L340.16,211.60L340.16,207.91L341.17,207.91L341.17,211.60L342.18,211.60L342.18,211.60L343.19,211.60L343.19,211.60L344.21,211.60L344.21,211.60L345.22,211.60L345.22,211.60L346.23,211.60L346.23,211.60L347.24,211.60L347.24,211.60L348.25,211.60L348.25,211.60L349.27,211.60L349.27,210.68L350.28,210.68L350.28,208.51L351.29,208.51L351.29,209.36L352.30,209.36L352.30,209.14L353.31,209.14L353.31,210.23L354.33,210.23L354.33,211.60L355.34,211.60L355.34,211.60L356.35,211.60L356.35,211.60L357.36,211.60L357.36,211.60L358.38,211.60L358.38,210.64L359.39,210.64L359.39,210.62L360.40,210.62L360.40,211.60L361.41,211.60L361.41,210.29L362.42,210.29L362.42,211.60L363.44,211.60L363.44,210.65L364.45,210.65L364.45,211.60L365.46,211.60L365.46,211.16L366.47,211.16L366.47,210.96L367.48,210.96L367.48,210.98L368.50,210.98L368.50,211.60L369.51,211.60L369.51,211.60L370.52,211.60L370.52,211.60L371.53,211.60L371.53,211.12L372.54,211.12L372.54,211.25L373.56,211.25L373.56,211.34L374.57,211.34L374.57,211.21L375.58,211.21L375.58,211.60L376.59,211.60L376.59,211.21L377.61,211.21L377.61,211.49L378.62,211.49L378.62,211.42L379.63,211.42L379.63,211.60L380.64,211.60L380.64,211.31L381.65,211.31L381.65,211.43L382.67,211.43L382.67,211.40L383.68,211.40L383.68,211.60L384.69,211.60L384.69,211.60L385.70,211.60L385.70,211.27L386.71,211.27L386.71,211.30L387.73,211.30L387.73,211.31L388.74,211.31L388.74,211.39L389.75,211.39L389.75,211.35L390.76,211.35L390.76,211.60L391.77,211.60L391.77,211.38L392.79,211.38L392.79,211.60L393.80,211.60L393.80,211.60L394.81,211.60L394.81,211.53L395.82,211.53L395.82,211.53L396.83,211.53L396.83,211.60L397.85,211.60L397.85,211.50L398.86,211.50L398.86,209.79L399.87,209.79L399.87,211.54L400.88,211.54L400.88,211.55L401.90,211.55L401.90,211.58L402.91,211.58L402.91,211.59L403.92,211.59L403.92,211.60L404.93,211.60L404.93,211.60L405.94,211.60L405.94,211.60L406.96,211.60L406.96,211.60L407.97,211.60L407.97,211.60L408.98,211.60L408.98,211.60L409.99,211.60L409.99,211.60L411.00,211.60L411.00,211.60L412.02,211.60L412.02,211.60L413.03,211.60L413.03,211.60L414.04,211.60L414.04,211.60L415.05,211.60L415.05,211.60L416.06,211.60L416.06,211.60L417.08,211.60L417.08,211.60L418.09,211.60L418.09,211.60L419.10,211.60L419.10,211.60L420.11,211.60L420.11,211.60L421.13,211.60L421.13,211.60L422.14,211.60L422.14,211.60L423.15,211.60L423.15,211.60L424.16,211.60L424.16,211.60L425.17,211.60L425.17,211.60L426.19,211.60L426.19,211.60L427.20,211.60L427.20,211.60L428.21,211.60L428.21,211.60L429.22,211.60L429.22,211.60L430.23,211.60L430.23,211.60L431.25,211.60L431.25,211.60L432.26,211.60L432.26,211.60L433.27,211.60L433.27,211.60L434.28,211.60L434.28,211.60L435.29,211.60L435.29,211.60L436.31,211.60L436.31,211.60L437.32,211.60L437.32,211.60L438.33,211.60L438.33,211.60L439.34,211.60L439.34,211.60L440.36,211.60L440.36,211.60L441.37,211.60L441.37,211.60L442.38,211.60L442.38,211.60L443.39,211.60L443.39,211.60L444.40,211.60L444.40,211.60L445.42,211.60L445.42,211.60L446.43,211.60L446.43,211.60L447.44,211.60L447.44,211.60L448.45,211.60L448.45,211.60L449.46,211.60L449.46,211.60L450.48,211.60L450.48,211.60L451.49,211.60L451.49,211.60L452.50,211.60L452.50,211.60L453.51,211.60L453.51,211.60L454.52,211.60L454.52,211.60L455.54,211.60L455.54,211.60L456.55,211.60L456.55,211.60L457.56,211.60L457.56,211.60L458.57,211.60L458.57,211.60L459.59,211.60L459.59,211.60L460.60,211.60L460.60,211.60L461.61,211.60L461.61,211.60L462.62,211.60L462.62,211.60L463.63,211.60L463.63,211.60L464.65,211.60L464.65,211.60L465.66,211.60L465.66,211.60L466.67,211.60L466.67,211.60L467.68,211.60L467.68,211.60L468.69,211.60L468.69,211.60L469.71,211.60L469.71,211.60L470.72,211.60L470.72,211.60L471.73,211.60L471.73,211.60L472.74,211.60L472.74,211.60L473.75,211.60L473.75,211.60L474.77,211.60L474.77,211.60L475.78,211.60L475.78,211.60L476.79,211.60L476.79,211.60L477.80,211.60L477.80,211.60L478.81,211.60L478.81,211.60L479.83,211.60L479.83,211.60L480.84,211.60L480.84,211.60L481.85,211.60L481.85,211.60L482.86,211.60L482.86,211.60L483.88,211.60L483.88,211.60L484.89,211.60L484.89,211.60L485.90,211.60L485.90,211.60L486.91,211.60L486.91,211.60L487.92,211.60L487.92,211.60L488.94,211.60L488.94,211.60L489.95,211.60L489.95,211.60L490.96,211.60L490.96,211.60L491.97,211.60L491.97,211.60L492.98,211.60L492.98,211.60L494.00,211.60L494.00,211.60L495.01,211.60L495.01,211.60L496.02,211.60L496.02,211.60L497.03,211.60L497.03,211.60L498.04,211.60L498.04,211.60L499.06,211.60L499.06,211.60L500.07,211.60L500.07,211.60L501.08,211.60L501.08,211.60L502.09,211.60L502.09,211.60L503.11,211.60L503.11,211.60L504.12,211.60L504.12,211.60L505.13,211.60L505.13,211.60L506.14,211.60L506.14,211.60L507.15,211.60L507.15,211.60L508.17,211.60L508.17,211.60L509.18,211.60L509.18,211.60L510.19,211.60L510.19,211.60L511.20,211.60L511.20,211.60L512.21,211.60L512.21,211.60L513.23,211.60L513.23,211.60L514.24,211.60L514.24,211.60L515.25,211.60L515.25,211.60L516.26,211.60L516.26,211.60L517.27,211.60L517.27,211.60L518.29,211.60L518.29,211.60L519.30,211.60L519.30,211.60L520.31,211.60L520.31,211.60L521.32,211.60L521.32,211.60L522.34,211.60L522.34,211.60L523.35,211.60L523.35,211.60L524.36,211.60L524.36,211.60L525.37,211.60L525.37,211.60L526.38,211.60L526.38,211.60L527.40,211.60L527.40,211.60L528.41,211.60L528.41,211.60L529.42,211.60L529.42,211.60L530.43,211.60L530.43,211.60L531.44,211.60L531.44,211.60L532.46,211.60L532.46,211.60L533.47,211.60L533.47,211.60L534.48,211.60L534.48,211.60L535.49,211.60L535.49,211.60L536.50,211.60L536.50,211.60Z" fill="#4040ff" fill-opacity="0.45"/>
<rect x="316.40" y="21.60" width="230.00" height="190.00" fill="none" stroke="#505050" stroke-width="1.0"/>
<text x="327.30" y="220.40" font-size="6.40" text-anchor="middle" fill="#111" textLength="3.91" lengthAdjust="spacingAndGlyphs">0</text>
<text x="362.20" y="220.40" font-size="6.40" text-anchor="middle" fill="#111" textLength="7.83" lengthAdjust="spacingAndGlyphs">50</text>
<text x="397.10" y="220.40" font-size="6.40" text-anchor="middle" fill="#111" textLength="11.74" lengthAdjust="spacingAndGlyphs">100</text>
<text x="432.00" y="220.40" font-size="6.40" text-anchor="middle" fill="#111" textLength="11.74" lengthAdjust="spacingAndGlyphs">150</text>
<text x="466.90" y="220.40" font-size="6.40" text-anchor="middle" fill="#111" textLength="11.74" lengthAdjust="spacingAndGlyphs">200</text>
<text x="501.80" y="220.40" font-size="6.40" text-anchor="middle" fill="#111" textLength="11.74" lengthAdjust="spacingAndGlyphs">250</text>
<text x="536.70" y="220.40" font-size="6.40" text-anchor="middle" fill="#111" textLength="11.74" lengthAdjust="spacingAndGlyphs">300</text>
<text x="311.30" y="213.85" font-size="6.40" text-anchor="end" fill="#111" textLength="3.91" lengthAdjust="spacingAndGlyphs">0</text>
<text x="311.30" y="188.06" font-size="6.40" text-anchor="end" fill="#111" textLength="15.65" lengthAdjust="spacingAndGlyphs">5000</text>
<text x="311.30" y="162.27" font-size="6.40" text-anchor="end" fill="#111" textLength="19.56" lengthAdjust="spacingAndGlyphs">10000</text>
<text x="311.30" y="136.48" font-size="6.40" text-anchor="end" fill="#111" textLength="19.56" lengthAdjust="spacingAndGlyphs">15000</text>
<text x="311.30" y="110.69" font-size="6.40" text-anchor="end" fill="#111" textLength="19.56" lengthAdjust="spacingAndGlyphs">20000</text>
<text x="311.30" y="84.90" font-size="6.40" text-anchor="end" fill="#111" textLength="19.56" lengthAdjust="spacingAndGlyphs">25000</text>
<text x="311.30" y="59.11" font-size="6.40" text-anchor="end" fill="#111" textLength="19.56" lengthAdjust="spacingAndGlyphs">30000</text>
<text x="311.30" y="33.32" font-size="6.40" text-anchor="end" fill="#111" textLength="19.56" lengthAdjust="spacingAndGlyphs">35000</text>
<path d="M327.00,211.60v2.2M361.90,211.60v2.2M396.80,211.60v2.2M431.70,211.60v2.2M466.60,211.60v2.2M501.50,211.60v2.2M536.40,211.60v2.2M316.40,211.60h-2.2M316.40,185.81h-2.2M316.40,160.02h-2.2M316.40,134.23h-2.2M316.40,108.44h-2.2M316.40,82.65h-2.2M316.40,56.86h-2.2M316.40,31.07h-2.2" stroke="#303030" stroke-width="0.9" fill="none"/>
<text x="431.40" y="230.70" font-size="7.96" text-anchor="middle" fill="#111" textLength="54.80" lengthAdjust="spacingAndGlyphs">Subsidy (USD)</text>
<text font-size="7.96" text-anchor="middle" fill="#111" textLength="22.72" lengthAdjust="spacingAndGlyphs" transform="translate(287.60,117.60) rotate(-90)">Count</text>
<text x="295.60" y="12.40" font-size="10.9" font-weight="bold" fill="#000">b</text>
<rect x="498.40" y="24.50" width="45.30" height="30.80" rx="1.2" fill="#fff" fill-opacity="0.8" stroke="#d4d4d4" stroke-width="0.6"/>
<rect x="500.80" y="28.00" width="12.8" height="4.0" fill="#d62728" fill-opacity="0.39"/>
<text x="519.90" y="32.20" font-size="6.40" text-anchor="start" fill="#111" textLength="14.38" lengthAdjust="spacingAndGlyphs">Corn</text>
<rect x="500.80" y="37.60" width="12.8" height="4.0" fill="#3cde46" fill-opacity="0.46"/>
<text x="519.90" y="41.80" font-size="6.40" text-anchor="start" fill="#111" textLength="11.31" lengthAdjust="spacingAndGlyphs">Soy</text>
<rect x="500.80" y="47.20" width="12.8" height="4.0" fill="#4040ff" fill-opacity="0.45"/>
<text x="519.90" y="51.40" font-size="6.40" text-anchor="start" fill="#111" textLength="19.94" lengthAdjust="spacingAndGlyphs">Wheat</text>
<path d="M46.60,465.10L46.60,465.10L48.66,465.10L48.66,464.96L50.71,464.96L50.71,463.89L52.77,463.89L52.77,463.82L54.82,463.82L54.82,463.71L56.88,463.71L56.88,463.58L58.94,463.58L58.94,463.57L60.99,463.57L60.99,463.31L63.05,463.31L63.05,463.21L65.11,463.21L65.11,461.73L67.16,461.73L67.16,430.36L69.22,430.36L69.22,384.69L71.27,384.69L71.27,352.34L73.33,352.34L73.33,441.04L75.39,441.04L75.39,460.00L77.44,460.00L77.44,461.28L79.50,461.28L79.50,461.64L81.56,461.64L81.56,461.82L83.61,461.82L83.61,461.73L85.67,461.73L85.67,461.54L87.72,461.54L87.72,460.22L89.78,460.22L89.78,452.71L91.84,452.71L91.84,446.39L93.89,446.39L93.89,442.88L95.95,442.88L95.95,427.17L98.01,427.17L98.01,437.66L100.06,437.66L100.06,450.85L102.12,450.85L102.12,459.49L104.17,459.49L104.17,461.01L106.23,461.01L106.23,461.35L108.29,461.35L108.29,461.92L110.34,461.92L110.34,461.28L112.40,461.28L112.40,459.77L114.46,459.77L114.46,457.28L116.51,457.28L116.51,455.01L118.57,455.01L118.57,452.76L120.62,452.76L120.62,450.37L122.68,450.37L122.68,445.28L124.74,445.28L124.74,450.55L126.79,450.55L126.79,457.53L128.85,457.53L128.85,461.21L130.91,461.21L130.91,461.77L132.96,461.77L132.96,462.11L135.02,462.11L135.02,461.71L137.07,461.71L137.07,460.54L139.13,460.54L139.13,459.70L141.19,459.70L141.19,458.62L143.24,458.62L143.24,458.00L145.30,458.00L145.30,455.59L147.36,455.59L147.36,453.32L149.41,453.32L149.41,455.46L151.47,455.46L151.47,458.40L153.52,458.40L153.52,459.63L155.58,459.63L155.58,460.64L157.64,460.64L157.64,460.81L159.69,460.81L159.69,460.91L161.75,460.91L161.75,460.73L163.81,460.73L163.81,461.20L165.86,461.20L165.86,460.65L167.92,460.65L167.92,459.77L169.97,459.77L169.97,459.09L172.03,459.09L172.03,456.96L174.09,456.96L174.09,456.63L176.14,456.63L176.14,456.95L178.20,456.95L178.20,459.24L180.25,459.24L180.25,460.66L182.31,460.66L182.31,460.75L184.37,460.75L184.37,460.79L186.42,460.79L186.42,461.44L188.48,461.44L188.48,461.28L190.54,461.28L190.54,460.72L192.59,460.72L192.59,460.33L194.65,460.33L194.65,458.83L196.70,458.83L196.70,458.36L198.76,458.36L198.76,456.45L200.82,456.45L200.82,456.59L202.87,456.59L202.87,455.88L204.93,455.88L204.93,457.50L206.99,457.50L206.99,458.56L209.04,458.56L209.04,459.76L211.10,459.76L211.10,459.48L213.15,459.48L213.15,459.96L215.21,459.96L215.21,460.25L217.27,460.25L217.27,460.48L219.32,460.48L219.32,459.95L221.38,459.95L221.38,459.06L223.44,459.06L223.44,458.50L225.49,458.50L225.49,458.17L227.55,458.17L227.55,457.71L229.60,457.71L229.60,458.92L231.66,458.92L231.66,459.34L233.72,459.34L233.72,460.05L235.77,460.05L235.77,460.27L237.83,460.27L237.83,460.21L239.89,460.21L239.89,460.56L241.94,460.56L241.94,460.30L244.00,460.30L244.00,459.27L246.05,459.27L246.05,458.32L248.11,458.32L248.11,457.80L250.17,457.80L250.17,456.09L252.22,456.09L252.22,465.10Z" fill="#d62728" fill-opacity="0.39"/>
<path d="M47.11,465.10L47.11,465.10L48.64,465.10L48.64,465.10L50.16,465.10L50.16,464.10L51.68,464.10L51.68,463.26L53.20,463.26L53.20,462.39L54.73,462.39L54.73,461.50L56.25,461.50L56.25,460.30L57.77,460.30L57.77,458.96L59.29,458.96L59.29,457.27L60.81,457.27L60.81,279.44L62.34,279.44L62.34,456.14L63.86,456.14L63.86,456.49L65.38,456.49L65.38,459.01L66.90,459.01L66.90,463.07L68.43,463.07L68.43,463.18L69.95,463.18L69.95,463.29L71.47,463.29L71.47,463.41L72.99,463.41L72.99,463.42L74.52,463.42L74.52,462.59L76.04,462.59L76.04,461.75L77.56,461.75L77.56,376.26L79.08,376.26L79.08,460.88L80.61,460.88L80.61,462.00L82.13,462.00L82.13,463.14L83.65,463.14L83.65,463.38L85.17,463.38L85.17,463.62L86.70,463.62L86.70,463.85L88.22,463.85L88.22,463.81L89.74,463.81L89.74,463.55L91.26,463.55L91.26,463.28L92.79,463.28L92.79,463.01L94.31,463.01L94.31,402.68L95.83,402.68L95.83,441.86L97.35,441.86L97.35,462.85L98.88,462.85L98.88,463.96L100.40,463.96L100.40,464.00L101.92,464.00L101.92,464.04L103.44,464.04L103.44,464.07L104.97,464.07L104.97,464.11L106.49,464.11L106.49,464.15L108.01,464.15L108.01,464.19L109.53,464.19L109.53,463.81L111.06,463.81L111.06,427.17L112.58,427.17L112.58,463.20L114.10,463.20L114.10,464.04L115.62,464.04L115.62,464.16L117.15,464.16L117.15,464.13L118.67,464.13L118.67,464.10L120.19,464.10L120.19,464.07L121.71,464.07L121.71,464.04L123.24,464.04L123.24,464.01L124.76,464.01L124.76,463.98L126.28,463.98L126.28,463.65L127.80,463.65L127.80,434.57L129.32,434.57L129.32,461.69L130.85,461.69L130.85,463.76L132.37,463.76L132.37,463.93L133.89,463.93L133.89,463.90L135.41,463.90L135.41,463.87L136.94,463.87L136.94,463.84L138.46,463.84L138.46,463.81L139.98,463.81L139.98,463.78L141.50,463.78L141.50,463.75L143.03,463.75L143.03,463.38L144.55,463.38L144.55,435.71L146.07,435.71L146.07,461.82L147.59,461.82L147.59,463.49L149.12,463.49L149.12,463.94L150.64,463.94L150.64,463.91L152.16,463.91L152.16,463.88L153.68,463.88L153.68,463.84L155.21,463.84L155.21,463.81L156.73,463.81L156.73,463.78L158.25,463.78L158.25,463.75L159.77,463.75L159.77,463.54L161.30,463.54L161.30,444.71L162.82,444.71L162.82,462.99L164.34,462.99L164.34,463.99L165.86,463.99L165.86,464.11L167.39,464.11L167.39,464.00L168.91,464.00L168.91,463.90L170.43,463.90L170.43,463.79L171.95,463.79L171.95,463.69L173.48,463.69L173.48,463.58L175.00,463.58L175.00,462.92L176.52,462.92L176.52,461.14L178.04,461.14L178.04,444.37L179.57,444.37L179.57,462.91L181.09,462.91L181.09,463.61L182.61,463.61L182.61,463.80L184.13,463.80L184.13,463.47L185.66,463.47L185.66,463.13L187.18,463.13L187.18,462.80L188.70,462.80L188.70,462.47L190.22,462.47L190.22,461.43L191.74,461.43L191.74,460.57L193.27,460.57L193.27,443.91L194.79,443.91L194.79,384.23L196.31,384.23L196.31,460.77L197.83,460.77L197.83,465.10Z" fill="#3cde46" fill-opacity="0.46"/>
<path d="M46.60,465.10L46.60,465.10L48.30,465.10L48.30,465.10L50.01,465.10L50.01,465.10L51.71,465.10L51.71,465.10L53.41,465.10L53.41,465.10L55.12,465.10L55.12,465.01L56.82,465.01L56.82,464.87L58.52,464.87L58.52,464.72L60.23,464.72L60.23,464.48L61.93,464.48L61.93,464.25L63.63,464.25L63.63,455.99L65.33,455.99L65.33,438.22L67.04,438.22L67.04,463.98L68.74,463.98L68.74,464.12L70.44,464.12L70.44,464.34L72.15,464.34L72.15,464.57L73.85,464.57L73.85,464.64L75.55,464.64L75.55,464.64L77.26,464.64L77.26,464.64L78.96,464.64L78.96,464.64L80.66,464.64L80.66,464.64L82.37,464.64L82.37,464.64L84.07,464.64L84.07,464.64L85.77,464.64L85.77,457.13L87.48,457.13L87.48,463.51L89.18,463.51L89.18,464.65L90.88,464.65L90.88,464.65L92.58,464.65L92.58,464.66L94.29,464.66L94.29,464.66L95.99,464.66L95.99,464.67L97.69,464.67L97.69,464.67L99.40,464.67L99.40,464.68L101.10,464.68L101.10,464.68L102.80,464.68L102.80,464.69L104.51,464.69L104.51,464.69L106.21,464.69L106.21,462.82L107.91,462.82L107.91,463.96L109.62,463.96L109.62,464.71L111.32,464.71L111.32,464.71L113.02,464.71L113.02,464.71L114.73,464.71L114.73,464.72L116.43,464.72L116.43,464.72L118.13,464.72L118.13,464.73L119.84,464.73L119.84,464.73L121.54,464.73L121.54,464.74L123.24,464.74L123.24,464.74L124.94,464.74L124.94,464.75L126.65,464.75L126.65,463.05L128.35,463.05L128.35,464.76L130.05,464.76L130.05,464.76L131.76,464.76L131.76,464.76L133.46,464.76L133.46,464.77L135.16,464.77L135.16,464.77L136.87,464.77L136.87,464.77L138.57,464.77L138.57,464.78L140.27,464.78L140.27,464.78L141.98,464.78L141.98,464.78L143.68,464.78L143.68,464.79L145.38,464.79L145.38,462.82L147.09,462.82L147.09,464.79L148.79,464.79L148.79,464.79L150.49,464.79L150.49,464.80L152.19,464.80L152.19,464.80L153.90,464.80L153.90,464.80L155.60,464.80L155.60,464.81L157.30,464.81L157.30,464.81L159.01,464.81L159.01,464.81L160.71,464.81L160.71,463.96L162.41,463.96L162.41,464.82L164.12,464.82L164.12,464.82L165.82,464.82L165.82,464.83L167.52,464.83L167.52,464.83L169.23,464.83L169.23,464.83L170.93,464.83L170.93,464.84L172.63,464.84L172.63,464.84L174.34,464.84L174.34,464.84L176.04,464.84L176.04,464.84L177.74,464.84L177.74,463.73L179.44,463.73L179.44,464.85L181.15,464.85L181.15,464.85L182.85,464.85L182.85,464.86L184.55,464.86L184.55,464.86L186.26,464.86L186.26,464.86L187.96,464.86L187.96,464.87L189.66,464.87L189.66,464.87L191.37,464.87L191.37,464.87L193.07,464.87L193.07,464.88L194.77,464.88L194.77,463.28L196.48,463.28L196.48,464.89L198.18,464.89L198.18,464.89L199.88,464.89L199.88,464.90L201.59,464.90L201.59,464.90L203.29,464.90L203.29,464.90L204.99,464.90L204.99,464.91L206.70,464.91L206.70,464.91L208.40,464.91L208.40,464.92L210.10,464.92L210.10,464.92L211.80,464.92L211.80,464.93L213.51,464.93L213.51,464.93L215.21,464.93L215.21,464.94L216.91,464.94L216.91,464.94L218.62,464.94L218.62,464.95L220.32,464.95L220.32,464.95L222.02,464.95L222.02,464.96L223.73,464.96L223.73,464.96L225.43,464.96L225.43,464.96L227.13,464.96L227.13,463.96L228.84,463.96L228.84,464.97L230.54,464.97L230.54,464.98L232.24,464.98L232.24,464.98L233.95,464.98L233.95,464.99L235.65,464.99L235.65,464.99L237.35,464.99L237.35,465.00L239.05,465.00L239.05,465.00L240.76,465.00L240.76,465.01L242.46,465.01L242.46,465.01L244.16,465.01L244.16,465.02L245.87,465.02L245.87,465.02L247.57,465.02L247.57,465.02L249.27,465.02L249.27,465.03L250.98,465.03L250.98,465.10Z" fill="#4040ff" fill-opacity="0.45"/>
<rect x="36.40" y="270.00" width="226.00" height="195.10" fill="none" stroke="#505050" stroke-width="1.0"/>
<text x="46.90" y="473.90" font-size="6.40" text-anchor="middle" fill="#111" textLength="3.91" lengthAdjust="spacingAndGlyphs">0</text>
<text x="88.44" y="473.90" font-size="6.40" text-anchor="middle" fill="#111" textLength="11.74" lengthAdjust="spacingAndGlyphs">200</text>
<text x="129.98" y="473.90" font-size="6.40" text-anchor="middle" fill="#111" textLength="11.74" lengthAdjust="spacingAndGlyphs">400</text>
<text x="171.52" y="473.90" font-size="6.40" text-anchor="middle" fill="#111" textLength="11.74" lengthAdjust="spacingAndGlyphs">600</text>
<text x="213.06" y="473.90" font-size="6.40" text-anchor="middle" fill="#111" textLength="11.74" lengthAdjust="spacingAndGlyphs">800</text>
<text x="254.60" y="473.90" font-size="6.40" text-anchor="middle" fill="#111" textLength="15.65" lengthAdjust="spacingAndGlyphs">1000</text>
<text x="31.30" y="467.35" font-size="6.40" text-anchor="end" fill="#111" textLength="3.91" lengthAdjust="spacingAndGlyphs">0</text>
<text x="31.30" y="444.57" font-size="6.40" text-anchor="end" fill="#111" textLength="19.56" lengthAdjust="spacingAndGlyphs">10000</text>
<text x="31.30" y="421.79" font-size="6.40" text-anchor="end" fill="#111" textLength="19.56" lengthAdjust="spacingAndGlyphs">20000</text>
<text x="31.30" y="399.01" font-size="6.40" text-anchor="end" fill="#111" textLength="19.56" lengthAdjust="spacingAndGlyphs">30000</text>
<text x="31.30" y="376.23" font-size="6.40" text-anchor="end" fill="#111" textLength="19.56" lengthAdjust="spacingAndGlyphs">40000</text>
<text x="31.30" y="353.45" font-size="6.40" text-anchor="end" fill="#111" textLength="19.56" lengthAdjust="spacingAndGlyphs">50000</text>
<text x="31.30" y="330.67" font-size="6.40" text-anchor="end" fill="#111" textLength="19.56" lengthAdjust="spacingAndGlyphs">60000</text>
<text x="31.30" y="307.89" font-size="6.40" text-anchor="end" fill="#111" textLength="19.56" lengthAdjust="spacingAndGlyphs">70000</text>
<text x="31.30" y="285.11" font-size="6.40" text-anchor="end" fill="#111" textLength="19.56" lengthAdjust="spacingAndGlyphs">80000</text>
<path d="M46.60,465.10v2.2M88.14,465.10v2.2M129.68,465.10v2.2M171.22,465.10v2.2M212.76,465.10v2.2M254.30,465.10v2.2M36.40,465.10h-2.2M36.40,442.32h-2.2M36.40,419.54h-2.2M36.40,396.76h-2.2M36.40,373.98h-2.2M36.40,351.20h-2.2M36.40,328.42h-2.2M36.40,305.64h-2.2M36.40,282.86h-2.2" stroke="#303030" stroke-width="0.9" fill="none"/>
<text x="149.40" y="484.20" font-size="7.96" text-anchor="middle" fill="#111" textLength="41.75" lengthAdjust="spacingAndGlyphs">Cost (USD)</text>
<text font-size="7.96" text-anchor="middle" fill="#111" textLength="22.72" lengthAdjust="spacingAndGlyphs" transform="translate(7.60,368.55) rotate(-90)">Count</text>
<text x="14.60" y="260.20" font-size="10.9" font-weight="bold" fill="#000" textLength="6.7" lengthAdjust="spacingAndGlyphs">C</text>
<rect x="215.60" y="273.00" width="44.10" height="31.50" rx="1.2" fill="#fff" fill-opacity="0.8" stroke="#d4d4d4" stroke-width="0.6"/>
<rect x="218.00" y="276.30" width="12.8" height="4.0" fill="#d62728" fill-opacity="0.39"/>
<text x="236.10" y="280.50" font-size="6.40" text-anchor="start" fill="#111" textLength="14.38" lengthAdjust="spacingAndGlyphs">Corn</text>
<rect x="218.00" y="285.90" width="12.8" height="4.0" fill="#3cde46" fill-opacity="0.46"/>
<text x="236.10" y="290.10" font-size="6.40" text-anchor="start" fill="#111" textLength="11.31" lengthAdjust="spacingAndGlyphs">Soy</text>
<rect x="218.00" y="295.50" width="12.8" height="4.0" fill="#4040ff" fill-opacity="0.45"/>
<text x="236.10" y="299.70" font-size="6.40" text-anchor="start" fill="#111" textLength="19.94" lengthAdjust="spacingAndGlyphs">Wheat</text>
<path d="M326.11,465.10L326.11,465.10L327.11,465.10L327.11,465.09L328.11,465.09L328.11,465.08L329.11,465.08L329.11,465.07L330.11,465.07L330.11,465.05L331.10,465.05L331.10,465.05L332.10,465.05L332.10,465.04L333.10,465.04L333.10,465.04L334.10,465.04L334.10,465.02L335.10,465.02L335.10,465.00L336.10,465.00L336.10,465.00L337.10,465.00L337.10,465.01L338.09,465.01L338.09,464.99L339.09,464.99L339.09,464.95L340.09,464.95L340.09,464.95L341.09,464.95L341.09,464.95L342.09,464.95L342.09,464.91L343.09,464.91L343.09,464.91L344.09,464.91L344.09,464.88L345.08,464.88L345.08,464.85L346.08,464.85L346.08,464.84L347.08,464.84L347.08,464.79L348.08,464.79L348.08,464.78L349.08,464.78L349.08,464.76L350.08,464.76L350.08,464.69L351.08,464.69L351.08,464.64L352.07,464.64L352.07,464.70L353.07,464.70L353.07,464.61L354.07,464.61L354.07,464.61L355.07,464.61L355.07,464.53L356.07,464.53L356.07,464.54L357.07,464.54L357.07,464.41L358.06,464.41L358.06,464.36L359.06,464.36L359.06,464.33L360.06,464.33L360.06,464.33L361.06,464.33L361.06,464.20L362.06,464.20L362.06,463.96L363.06,463.96L363.06,463.70L364.06,463.70L364.06,463.16L365.05,463.16L365.05,463.08L366.05,463.08L366.05,461.94L367.05,461.94L367.05,461.31L368.05,461.31L368.05,461.56L369.05,461.56L369.05,459.96L370.05,459.96L370.05,459.79L371.05,459.79L371.05,458.39L372.04,458.39L372.04,457.40L373.04,457.40L373.04,457.57L374.04,457.57L374.04,454.85L375.04,454.85L375.04,453.44L376.04,453.44L376.04,449.53L377.04,449.53L377.04,449.92L378.04,449.92L378.04,444.15L379.03,444.15L379.03,443.70L380.03,443.70L380.03,436.42L381.03,436.42L381.03,431.39L382.03,431.39L382.03,402.27L383.03,402.27L383.03,386.17L384.03,386.17L384.03,349.80L385.02,349.80L385.02,350.34L386.02,350.34L386.02,351.64L387.02,351.64L387.02,338.68L388.02,338.68L388.02,322.47L389.02,322.47L389.02,292.48L390.02,292.48L390.02,279.03L391.02,279.03L391.02,325.71L392.01,325.71L392.01,335.44L393.01,335.44L393.01,355.70L394.01,355.70L394.01,366.98L395.01,366.98L395.01,388.89L396.01,388.89L396.01,392.67L397.01,392.67L397.01,395.57L398.01,395.57L398.01,401.48L399.00,401.48L399.00,396.54L400.00,396.54L400.00,403.75L401.00,403.75L401.00,416.28L402.00,416.28L402.00,417.70L403.00,417.70L403.00,419.82L404.00,419.82L404.00,412.24L405.00,412.24L405.00,419.56L405.99,419.56L405.99,422.26L406.99,422.26L406.99,423.18L407.99,423.18L407.99,417.34L408.99,417.34L408.99,423.39L409.99,423.39L409.99,424.57L410.99,424.57L410.99,417.73L411.98,417.73L411.98,425.04L412.98,425.04L412.98,422.13L413.98,422.13L413.98,416.88L414.98,416.88L414.98,423.75L415.98,423.75L415.98,423.09L416.98,423.09L416.98,418.79L417.98,418.79L417.98,425.83L418.97,425.83L418.97,428.88L419.97,428.88L419.97,431.29L420.97,431.29L420.97,426.04L421.97,426.04L421.97,426.78L422.97,426.78L422.97,424.99L423.97,424.99L423.97,427.74L424.97,427.74L424.97,428.10L425.96,428.10L425.96,415.67L426.96,415.67L426.96,429.61L427.96,429.61L427.96,429.40L428.96,429.40L428.96,433.98L429.96,433.98L429.96,434.86L430.96,434.86L430.96,432.56L431.96,432.56L431.96,437.84L432.95,437.84L432.95,443.65L433.95,443.65L433.95,438.32L434.95,438.32L434.95,442.53L435.95,442.53L435.95,445.76L436.95,445.76L436.95,436.09L437.95,436.09L437.95,445.81L438.94,445.81L438.94,447.75L439.94,447.75L439.94,448.85L440.94,448.85L440.94,450.42L441.94,450.42L441.94,449.97L442.94,449.97L442.94,449.62L443.94,449.62L443.94,452.16L444.94,452.16L444.94,452.23L445.93,452.23L445.93,451.53L446.93,451.53L446.93,455.20L447.93,455.20L447.93,448.16L448.93,448.16L448.93,456.05L449.93,456.05L449.93,457.57L450.93,457.57L450.93,458.46L451.93,458.46L451.93,458.57L452.92,458.57L452.92,458.75L453.92,458.75L453.92,459.64L454.92,459.64L454.92,459.77L455.92,459.77L455.92,459.90L456.92,459.90L456.92,460.50L457.92,460.50L457.92,455.78L458.92,455.78L458.92,461.39L459.91,461.39L459.91,461.88L460.91,461.88L460.91,462.09L461.91,462.09L461.91,462.86L462.91,462.86L462.91,463.44L463.91,463.44L463.91,463.51L464.91,463.51L464.91,463.84L465.90,463.84L465.90,463.90L466.90,463.90L466.90,463.93L467.90,463.93L467.90,464.08L468.90,464.08L468.90,464.04L469.90,464.04L469.90,464.19L470.90,464.19L470.90,464.33L471.90,464.33L471.90,464.11L472.89,464.11L472.89,464.21L473.89,464.21L473.89,464.39L474.89,464.39L474.89,464.27L475.89,464.27L475.89,464.39L476.89,464.39L476.89,464.53L477.89,464.53L477.89,464.48L478.89,464.48L478.89,464.52L479.88,464.52L479.88,464.45L480.88,464.45L480.88,464.58L481.88,464.58L481.88,464.57L482.88,464.57L482.88,464.59L483.88,464.59L483.88,460.48L484.88,460.48L484.88,464.65L485.88,464.65L485.88,464.62L486.87,464.62L486.87,464.61L487.87,464.61L487.87,464.64L488.87,464.64L488.87,463.07L489.87,463.07L489.87,464.75L490.87,464.75L490.87,464.74L491.87,464.74L491.87,464.80L492.86,464.80L492.86,464.84L493.86,464.84L493.86,464.89L494.86,464.89L494.86,464.86L495.86,464.86L495.86,464.92L496.86,464.92L496.86,464.97L497.86,464.97L497.86,464.97L498.86,464.97L498.86,464.99L499.85,464.99L499.85,465.04L500.85,465.04L500.85,465.04L501.85,465.04L501.85,465.06L502.85,465.06L502.85,465.08L503.85,465.08L503.85,465.10L504.85,465.10L504.85,465.10L505.85,465.10L505.85,465.10L506.84,465.10L506.84,465.10L507.84,465.10L507.84,465.10L508.84,465.10L508.84,465.10L509.84,465.10L509.84,465.10L510.84,465.10L510.84,465.10L511.84,465.10L511.84,465.10L512.84,465.10L512.84,465.10L513.83,465.10L513.83,465.10L514.83,465.10L514.83,465.10L515.83,465.10L515.83,465.10L516.83,465.10L516.83,465.10L517.83,465.10L517.83,465.10L518.83,465.10L518.83,465.10L519.82,465.10L519.82,465.10L520.82,465.10L520.82,465.10L521.82,465.10L521.82,465.10L522.82,465.10L522.82,465.10L523.82,465.10L523.82,465.10L524.82,465.10L524.82,465.10L525.82,465.10L525.82,465.10L526.81,465.10L526.81,465.10L527.81,465.10L527.81,465.10L528.81,465.10L528.81,465.10L529.81,465.10L529.81,465.10L530.81,465.10L530.81,465.10L531.81,465.10L531.81,465.10L532.81,465.10L532.81,465.10L533.80,465.10L533.80,465.10L534.80,465.10L534.80,465.10L535.80,465.10L535.80,465.10L536.80,465.10L536.80,465.10Z" fill="#d62728" fill-opacity="0.39"/>
<path d="M326.11,465.10L326.11,465.10L327.11,465.10L327.11,465.10L328.11,465.10L328.11,465.10L329.11,465.10L329.11,465.10L330.11,465.10L330.11,465.10L331.10,465.10L331.10,465.10L332.10,465.10L332.10,465.10L333.10,465.10L333.10,465.10L334.10,465.10L334.10,465.10L335.10,465.10L335.10,465.10L336.10,465.10L336.10,465.10L337.10,465.10L337.10,465.10L338.09,465.10L338.09,465.10L339.09,465.10L339.09,465.10L340.09,465.10L340.09,465.10L341.09,465.10L341.09,465.10L342.09,465.10L342.09,465.10L343.09,465.10L343.09,465.10L344.09,465.10L344.09,465.10L345.08,465.10L345.08,465.10L346.08,465.10L346.08,465.10L347.08,465.10L347.08,465.10L348.08,465.10L348.08,465.10L349.08,465.10L349.08,465.10L350.08,465.10L350.08,465.10L351.08,465.10L351.08,465.10L352.07,465.10L352.07,465.10L353.07,465.10L353.07,465.10L354.07,465.10L354.07,465.10L355.07,465.10L355.07,465.10L356.07,465.10L356.07,465.10L357.07,465.10L357.07,465.10L358.06,465.10L358.06,465.09L359.06,465.09L359.06,465.05L360.06,465.05L360.06,465.02L361.06,465.02L361.06,464.99L362.06,464.99L362.06,464.95L363.06,464.95L363.06,464.92L364.06,464.92L364.06,464.89L365.05,464.89L365.05,464.86L366.05,464.86L366.05,464.82L367.05,464.82L367.05,464.79L368.05,464.79L368.05,464.60L369.05,464.60L369.05,464.35L370.05,464.35L370.05,464.07L371.05,464.07L371.05,463.82L372.04,463.82L372.04,463.47L373.04,463.47L373.04,462.98L374.04,462.98L374.04,462.47L375.04,462.47L375.04,462.02L376.04,462.02L376.04,461.36L377.04,461.36L377.04,460.27L378.04,460.27L378.04,457.30L379.03,457.30L379.03,453.03L380.03,453.03L380.03,448.14L381.03,448.14L381.03,439.37L382.03,439.37L382.03,427.63L383.03,427.63L383.03,409.36L384.03,409.36L384.03,383.13L385.02,383.13L385.02,365.68L386.02,365.68L386.02,361.37L387.02,361.37L387.02,345.16L388.02,345.16L388.02,330.57L389.02,330.57L389.02,294.92L390.02,294.92L390.02,308.69L391.02,308.69L391.02,333.00L392.01,333.00L392.01,345.16L393.01,345.16L393.01,361.37L394.01,361.37L394.01,381.51L395.01,381.51L395.01,392.95L396.01,392.95L396.01,396.06L397.01,396.06L397.01,405.66L398.01,405.66L398.01,412.47L399.00,412.47L399.00,418.68L400.00,418.68L400.00,426.73L401.00,426.73L401.00,428.23L402.00,428.23L402.00,431.26L403.00,431.26L403.00,432.77L404.00,432.77L404.00,433.99L405.00,433.99L405.00,436.43L405.99,436.43L405.99,435.54L406.99,435.54L406.99,437.55L407.99,437.55L407.99,438.41L408.99,438.41L408.99,439.06L409.99,439.06L409.99,438.95L410.99,438.95L410.99,439.21L411.98,439.21L411.98,440.92L412.98,440.92L412.98,442.27L413.98,442.27L413.98,441.15L414.98,441.15L414.98,443.32L415.98,443.32L415.98,442.53L416.98,442.53L416.98,444.12L417.98,444.12L417.98,445.28L418.97,445.28L418.97,446.00L419.97,446.00L419.97,446.14L420.97,446.14L420.97,446.69L421.97,446.69L421.97,448.04L422.97,448.04L422.97,448.27L423.97,448.27L423.97,448.57L424.97,448.57L424.97,450.44L425.96,450.44L425.96,451.64L426.96,451.64L426.96,452.38L427.96,452.38L427.96,453.29L428.96,453.29L428.96,453.84L429.96,453.84L429.96,454.74L430.96,454.74L430.96,455.79L431.96,455.79L431.96,456.17L432.95,456.17L432.95,457.82L433.95,457.82L433.95,458.38L434.95,458.38L434.95,458.63L435.95,458.63L435.95,459.23L436.95,459.23L436.95,459.72L437.95,459.72L437.95,460.14L438.94,460.14L438.94,460.36L439.94,460.36L439.94,460.93L440.94,460.93L440.94,461.39L441.94,461.39L441.94,461.79L442.94,461.79L442.94,461.88L443.94,461.88L443.94,462.14L444.94,462.14L444.94,462.33L445.93,462.33L445.93,462.53L446.93,462.53L446.93,462.68L447.93,462.68L447.93,462.90L448.93,462.90L448.93,463.02L449.93,463.02L449.93,463.35L450.93,463.35L450.93,463.48L451.93,463.48L451.93,463.59L452.92,463.59L452.92,463.87L453.92,463.87L453.92,464.03L454.92,464.03L454.92,464.30L455.92,464.30L455.92,464.57L456.92,464.57L456.92,464.84L457.92,464.84L457.92,465.10L458.92,465.10L458.92,465.10L459.91,465.10L459.91,465.10L460.91,465.10L460.91,465.10L461.91,465.10L461.91,465.10L462.91,465.10L462.91,465.10L463.91,465.10L463.91,465.10L464.91,465.10L464.91,465.10L465.90,465.10L465.90,465.10L466.90,465.10L466.90,465.10L467.90,465.10L467.90,465.10L468.90,465.10L468.90,465.10L469.90,465.10L469.90,465.10L470.90,465.10L470.90,465.10L471.90,465.10L471.90,465.10L472.89,465.10L472.89,465.10L473.89,465.10L473.89,465.10L474.89,465.10L474.89,465.10L475.89,465.10L475.89,465.10L476.89,465.10L476.89,465.10L477.89,465.10L477.89,465.10L478.89,465.10L478.89,465.10L479.88,465.10L479.88,465.10L480.88,465.10L480.88,465.10L481.88,465.10L481.88,465.10L482.88,465.10L482.88,465.10L483.88,465.10L483.88,465.10L484.88,465.10L484.88,465.10L485.88,465.10L485.88,465.10L486.87,465.10L486.87,465.10L487.87,465.10L487.87,465.10L488.87,465.10L488.87,465.10L489.87,465.10L489.87,465.10L490.87,465.10L490.87,465.10L491.87,465.10L491.87,465.10L492.86,465.10L492.86,465.10L493.86,465.10L493.86,465.10L494.86,465.10L494.86,465.10L495.86,465.10L495.86,465.10L496.86,465.10L496.86,465.10L497.86,465.10L497.86,465.10L498.86,465.10L498.86,465.10L499.85,465.10L499.85,465.10L500.85,465.10L500.85,465.10L501.85,465.10L501.85,465.10L502.85,465.10L502.85,465.10L503.85,465.10L503.85,465.10L504.85,465.10L504.85,465.10L505.85,465.10L505.85,465.10L506.84,465.10L506.84,465.10L507.84,465.10L507.84,465.10L508.84,465.10L508.84,465.10L509.84,465.10L509.84,465.10L510.84,465.10L510.84,465.10L511.84,465.10L511.84,465.10L512.84,465.10L512.84,465.10L513.83,465.10L513.83,465.10L514.83,465.10L514.83,465.10L515.83,465.10L515.83,465.10L516.83,465.10L516.83,465.10L517.83,465.10L517.83,465.10L518.83,465.10L518.83,465.10L519.82,465.10L519.82,465.10L520.82,465.10L520.82,465.10L521.82,465.10L521.82,465.10L522.82,465.10L522.82,465.10L523.82,465.10L523.82,465.10L524.82,465.10L524.82,465.10L525.82,465.10L525.82,465.10L526.81,465.10L526.81,465.10L527.81,465.10L527.81,465.10L528.81,465.10L528.81,465.10L529.81,465.10L529.81,465.10L530.81,465.10L530.81,465.10L531.81,465.10L531.81,465.10L532.81,465.10L532.81,465.10L533.80,465.10L533.80,465.10L534.80,465.10L534.80,465.10L535.80,465.10L535.80,465.10L536.80,465.10L536.80,465.10Z" fill="#3cde46" fill-opacity="0.46"/>
<path d="M326.11,465.10L326.11,465.10L327.11,465.10L327.11,465.09L328.11,465.09L328.11,465.09L329.11,465.09L329.11,465.08L330.11,465.08L330.11,465.08L331.10,465.08L331.10,465.07L332.10,465.07L332.10,465.07L333.10,465.07L333.10,465.06L334.10,465.06L334.10,465.05L335.10,465.05L335.10,465.05L336.10,465.05L336.10,465.04L337.10,465.04L337.10,465.04L338.09,465.04L338.09,465.03L339.09,465.03L339.09,465.03L340.09,465.03L340.09,465.02L341.09,465.02L341.09,465.02L342.09,465.02L342.09,465.01L343.09,465.01L343.09,465.01L344.09,465.01L344.09,465.00L345.08,465.00L345.08,465.00L346.08,465.00L346.08,464.99L347.08,464.99L347.08,464.98L348.08,464.98L348.08,464.98L349.08,464.98L349.08,464.96L350.08,464.96L350.08,464.94L351.08,464.94L351.08,464.92L352.07,464.92L352.07,464.90L353.07,464.90L353.07,464.88L354.07,464.88L354.07,464.87L355.07,464.87L355.07,464.85L356.07,464.85L356.07,464.83L357.07,464.83L357.07,464.81L358.06,464.81L358.06,464.79L359.06,464.79L359.06,464.77L360.06,464.77L360.06,464.75L361.06,464.75L361.06,464.73L362.06,464.73L362.06,464.71L363.06,464.71L363.06,464.69L364.06,464.69L364.06,464.67L365.05,464.67L365.05,464.65L366.05,464.65L366.05,464.63L367.05,464.63L367.05,464.61L368.05,464.61L368.05,464.54L369.05,464.54L369.05,464.46L370.05,464.46L370.05,464.39L371.05,464.39L371.05,464.31L372.04,464.31L372.04,464.24L373.04,464.24L373.04,464.16L374.04,464.16L374.04,464.09L375.04,464.09L375.04,463.90L376.04,463.90L376.04,463.57L377.04,463.57L377.04,463.23L378.04,463.23L378.04,462.13L379.03,462.13L379.03,460.32L380.03,460.32L380.03,458.51L381.03,458.51L381.03,454.28L382.03,454.28L382.03,449.99L383.03,449.99L383.03,446.56L384.03,446.56L384.03,443.60L385.02,443.60L385.02,443.98L386.02,443.98L386.02,448.62L387.02,448.62L387.02,454.53L388.02,454.53L388.02,458.87L389.02,458.87L389.02,461.31L390.02,461.31L390.02,462.76L391.02,462.76L391.02,463.29L392.01,463.29L392.01,463.57L393.01,463.57L393.01,463.85L394.01,463.85L394.01,464.00L395.01,464.00L395.01,464.06L396.01,464.06L396.01,464.12L397.01,464.12L397.01,464.18L398.01,464.18L398.01,464.25L399.00,464.25L399.00,464.31L400.00,464.31L400.00,464.37L401.00,464.37L401.00,464.39L402.00,464.39L402.00,464.40L403.00,464.40L403.00,464.42L404.00,464.42L404.00,464.44L405.00,464.44L405.00,464.46L405.99,464.46L405.99,464.47L406.99,464.47L406.99,464.49L407.99,464.49L407.99,464.51L408.99,464.51L408.99,464.52L409.99,464.52L409.99,464.54L410.99,464.54L410.99,464.56L411.98,464.56L411.98,464.58L412.98,464.58L412.98,464.59L413.98,464.59L413.98,464.61L414.98,464.61L414.98,464.63L415.98,464.63L415.98,464.65L416.98,464.65L416.98,464.66L417.98,464.66L417.98,464.68L418.97,464.68L418.97,464.70L419.97,464.70L419.97,464.71L420.97,464.71L420.97,464.73L421.97,464.73L421.97,464.75L422.97,464.75L422.97,464.77L423.97,464.77L423.97,464.78L424.97,464.78L424.97,464.78L425.96,464.78L425.96,464.79L426.96,464.79L426.96,464.79L427.96,464.79L427.96,464.80L428.96,464.80L428.96,464.80L429.96,464.80L429.96,464.81L430.96,464.81L430.96,464.81L431.96,464.81L431.96,464.81L432.95,464.81L432.95,464.82L433.95,464.82L433.95,464.82L434.95,464.82L434.95,464.83L435.95,464.83L435.95,464.83L436.95,464.83L436.95,464.84L437.95,464.84L437.95,464.84L438.94,464.84L438.94,464.85L439.94,464.85L439.94,464.85L440.94,464.85L440.94,464.86L441.94,464.86L441.94,464.86L442.94,464.86L442.94,464.86L443.94,464.86L443.94,464.87L444.94,464.87L444.94,464.87L445.93,464.87L445.93,464.88L446.93,464.88L446.93,464.88L447.93,464.88L447.93,464.89L448.93,464.89L448.93,464.89L449.93,464.89L449.93,464.90L450.93,464.90L450.93,464.90L451.93,464.90L451.93,464.91L452.92,464.91L452.92,464.91L453.92,464.91L453.92,464.92L454.92,464.92L454.92,464.92L455.92,464.92L455.92,464.92L456.92,464.92L456.92,464.93L457.92,464.93L457.92,464.93L458.92,464.93L458.92,464.94L459.91,464.94L459.91,464.94L460.91,464.94L460.91,464.95L461.91,464.95L461.91,464.95L462.91,464.95L462.91,464.96L463.91,464.96L463.91,464.96L464.91,464.96L464.91,464.97L465.90,464.97L465.90,464.97L466.90,464.97L466.90,464.97L467.90,464.97L467.90,464.98L468.90,464.98L468.90,464.98L469.90,464.98L469.90,464.99L470.90,464.99L470.90,464.99L471.90,464.99L471.90,465.00L472.89,465.00L472.89,465.00L473.89,465.00L473.89,465.01L474.89,465.01L474.89,465.01L475.89,465.01L475.89,465.02L476.89,465.02L476.89,465.02L477.89,465.02L477.89,465.03L478.89,465.03L478.89,465.03L479.88,465.03L479.88,465.03L480.88,465.03L480.88,465.04L481.88,465.04L481.88,465.04L482.88,465.04L482.88,465.04L483.88,465.04L483.88,465.04L484.88,465.04L484.88,465.04L485.88,465.04L485.88,465.04L486.87,465.04L486.87,465.04L487.87,465.04L487.87,465.04L488.87,465.04L488.87,465.05L489.87,465.05L489.87,465.05L490.87,465.05L490.87,465.05L491.87,465.05L491.87,465.05L492.86,465.05L492.86,465.05L493.86,465.05L493.86,465.05L494.86,465.05L494.86,465.05L495.86,465.05L495.86,465.05L496.86,465.05L496.86,465.05L497.86,465.05L497.86,465.06L498.86,465.06L498.86,465.06L499.85,465.06L499.85,465.06L500.85,465.06L500.85,465.06L501.85,465.06L501.85,465.06L502.85,465.06L502.85,465.06L503.85,465.06L503.85,465.06L504.85,465.06L504.85,465.06L505.85,465.06L505.85,465.06L506.84,465.06L506.84,465.07L507.84,465.07L507.84,465.07L508.84,465.07L508.84,465.07L509.84,465.07L509.84,465.07L510.84,465.07L510.84,465.07L511.84,465.07L511.84,465.07L512.84,465.07L512.84,465.07L513.83,465.07L513.83,465.07L514.83,465.07L514.83,465.08L515.83,465.08L515.83,465.08L516.83,465.08L516.83,465.08L517.83,465.08L517.83,465.08L518.83,465.08L518.83,465.08L519.82,465.08L519.82,465.08L520.82,465.08L520.82,465.08L521.82,465.08L521.82,465.08L522.82,465.08L522.82,465.08L523.82,465.08L523.82,465.09L524.82,465.09L524.82,465.09L525.82,465.09L525.82,465.09L526.81,465.09L526.81,465.09L527.81,465.09L527.81,465.09L528.81,465.09L528.81,465.09L529.81,465.09L529.81,465.09L530.81,465.09L530.81,465.09L531.81,465.09L531.81,465.09L532.81,465.09L532.81,465.10L533.80,465.10L533.80,465.10L534.80,465.10L534.80,465.10L535.80,465.10L535.80,465.10L536.80,465.10L536.80,465.10Z" fill="#4040ff" fill-opacity="0.45"/>
<rect x="319.80" y="270.00" width="226.60" height="195.10" fill="none" stroke="#505050" stroke-width="1.0"/>
<text x="339.60" y="473.90" font-size="6.40" text-anchor="middle" fill="#111" textLength="16.89" lengthAdjust="spacingAndGlyphs">−500</text>
<text x="386.70" y="473.90" font-size="6.40" text-anchor="middle" fill="#111" textLength="3.91" lengthAdjust="spacingAndGlyphs">0</text>
<text x="433.80" y="473.90" font-size="6.40" text-anchor="middle" fill="#111" textLength="11.74" lengthAdjust="spacingAndGlyphs">500</text>
<text x="480.90" y="473.90" font-size="6.40" text-anchor="middle" fill="#111" textLength="15.65" lengthAdjust="spacingAndGlyphs">1000</text>
<text x="528.00" y="473.90" font-size="6.40" text-anchor="middle" fill="#111" textLength="15.65" lengthAdjust="spacingAndGlyphs">1500</text>
<text x="314.70" y="467.35" font-size="6.40" text-anchor="end" fill="#111" textLength="3.91" lengthAdjust="spacingAndGlyphs">0</text>
<text x="314.70" y="426.83" font-size="6.40" text-anchor="end" fill="#111" textLength="15.65" lengthAdjust="spacingAndGlyphs">5000</text>
<text x="314.70" y="386.31" font-size="6.40" text-anchor="end" fill="#111" textLength="19.56" lengthAdjust="spacingAndGlyphs">10000</text>
<text x="314.70" y="345.79" font-size="6.40" text-anchor="end" fill="#111" textLength="19.56" lengthAdjust="spacingAndGlyphs">15000</text>
<text x="314.70" y="305.27" font-size="6.40" text-anchor="end" fill="#111" textLength="19.56" lengthAdjust="spacingAndGlyphs">20000</text>
<path d="M339.30,465.10v2.2M386.40,465.10v2.2M433.50,465.10v2.2M480.60,465.10v2.2M527.70,465.10v2.2M319.80,465.10h-2.2M319.80,424.58h-2.2M319.80,384.06h-2.2M319.80,343.54h-2.2M319.80,303.02h-2.2" stroke="#303030" stroke-width="0.9" fill="none"/>
<text x="433.10" y="484.20" font-size="7.96" text-anchor="middle" fill="#111" textLength="44.70" lengthAdjust="spacingAndGlyphs">Profit (USD)</text>
<text font-size="7.96" text-anchor="middle" fill="#111" textLength="22.72" lengthAdjust="spacingAndGlyphs" transform="translate(291.00,368.55) rotate(-90)">Count</text>
<text x="300.60" y="260.20" font-size="10.9" font-weight="bold" fill="#000">d</text>
<rect x="499.60" y="273.00" width="44.10" height="31.50" rx="1.2" fill="#fff" fill-opacity="0.8" stroke="#d4d4d4" stroke-width="0.6"/>
<rect x="502.00" y="276.30" width="12.8" height="4.0" fill="#d62728" fill-opacity="0.39"/>
<text x="520.10" y="280.50" font-size="6.40" text-anchor="start" fill="#111" textLength="14.38" lengthAdjust="spacingAndGlyphs">Corn</text>
<rect x="502.00" y="285.90" width="12.8" height="4.0" fill="#3cde46" fill-opacity="0.46"/>
<text x="520.10" y="290.10" font-size="6.40" text-anchor="start" fill="#111" textLength="11.31" lengthAdjust="spacingAndGlyphs">Soy</text>
<rect x="502.00" y="295.50" width="12.8" height="4.0" fill="#4040ff" fill-opacity="0.45"/>
<text x="520.10" y="299.70" font-size="6.40" text-anchor="start" fill="#111" textLength="19.94" lengthAdjust="spacingAndGlyphs">Wheat</text>
</svg>
</body></html>
